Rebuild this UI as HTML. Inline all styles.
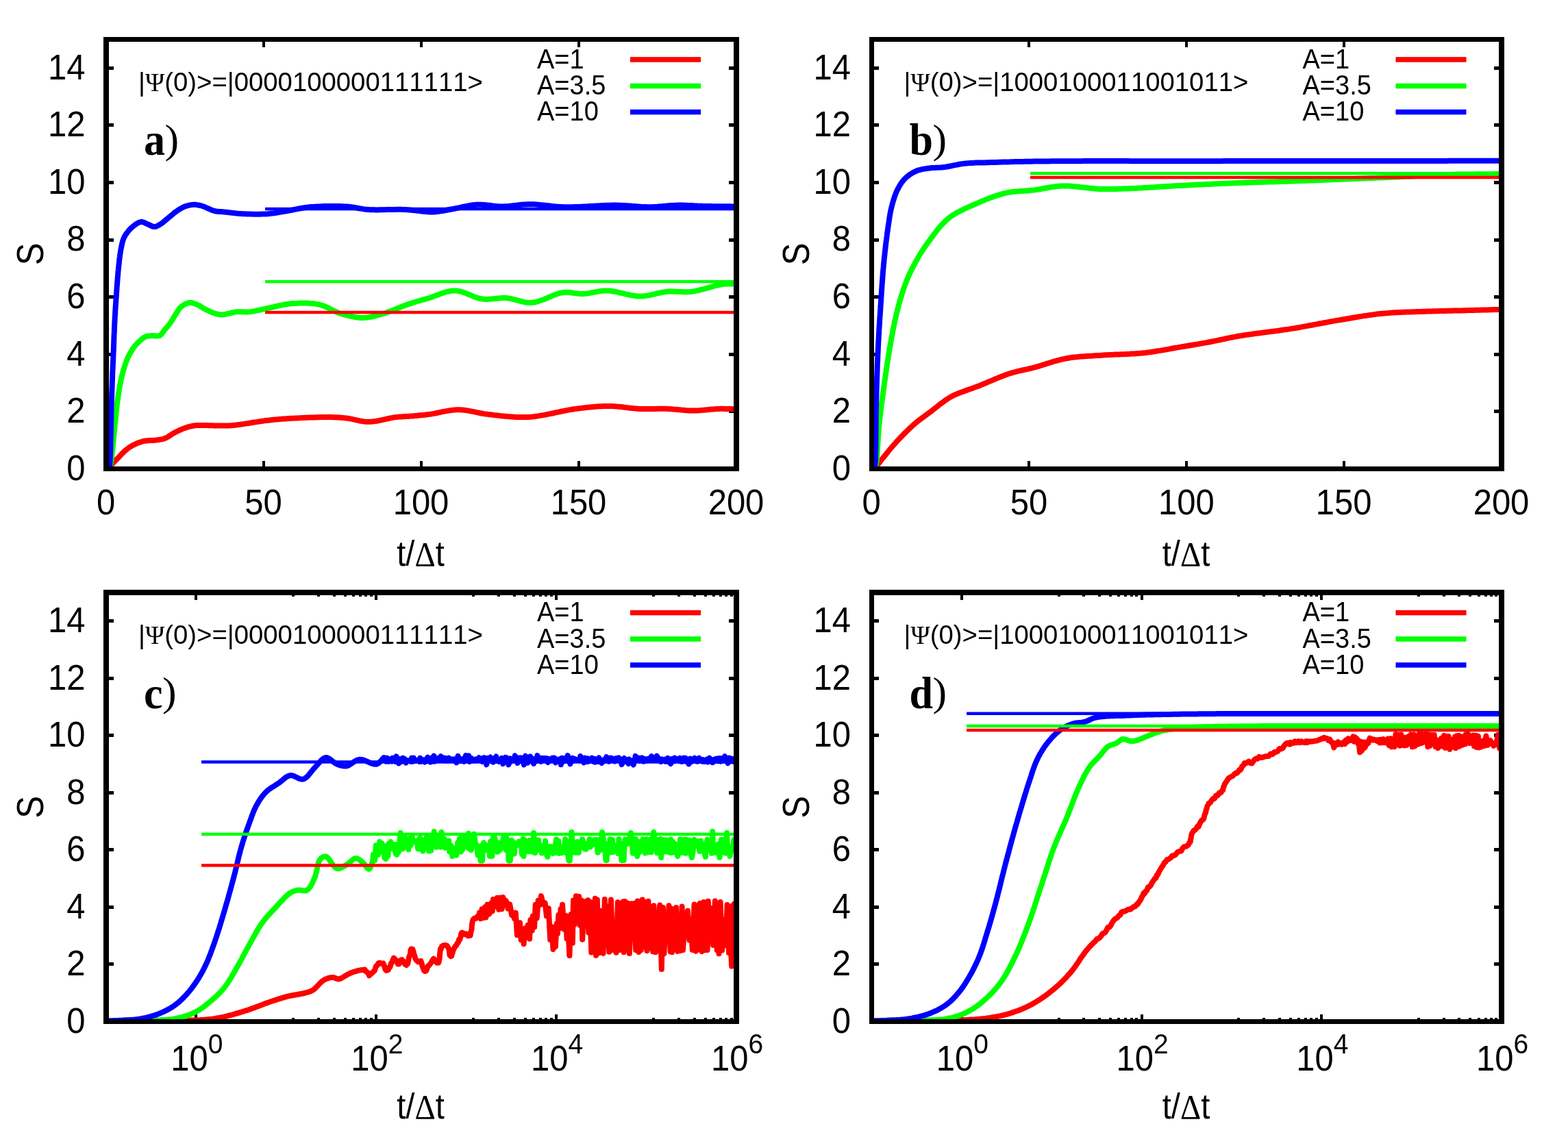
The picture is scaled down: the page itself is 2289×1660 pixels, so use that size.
<!DOCTYPE html>
<html><head><meta charset="utf-8"><title>Entropy S vs t</title>
<style>html,body{margin:0;padding:0;background:#fff;overflow:hidden;width:2289px;height:1660px;}svg{display:block;}</style>
</head><body>
<svg width="2289" height="1660" viewBox="0 0 2289 1660">
<rect x="0" y="0" width="2289" height="1660" fill="#fff"/>
<clipPath id="cp00"><rect x="155" y="57.5" width="920" height="627"/></clipPath>
<clipPath id="cp01"><rect x="155" y="865" width="920" height="626.5"/></clipPath>
<clipPath id="cp10"><rect x="1272.5" y="57.5" width="919.5" height="627"/></clipPath>
<clipPath id="cp11"><rect x="1272.5" y="865" width="919.5" height="626.5"/></clipPath>
<g fill="#000" shape-rendering="crispEdges"><rect x="159" y="682" width="7" height="5"/><rect x="1064" y="682" width="7" height="5"/><rect x="159" y="598" width="7" height="5"/><rect x="1064" y="598" width="7" height="5"/><rect x="159" y="515" width="7" height="5"/><rect x="1064" y="515" width="7" height="5"/><rect x="159" y="431" width="7" height="5"/><rect x="1064" y="431" width="7" height="5"/><rect x="159" y="348" width="7" height="5"/><rect x="1064" y="348" width="7" height="5"/><rect x="159" y="264" width="7" height="5"/><rect x="1064" y="264" width="7" height="5"/><rect x="159" y="180" width="7" height="5"/><rect x="1064" y="180" width="7" height="5"/><rect x="159" y="97" width="7" height="5"/><rect x="1064" y="97" width="7" height="5"/><rect x="383" y="673" width="4" height="8"/><rect x="383" y="61" width="4" height="8"/><rect x="613" y="673" width="4" height="8"/><rect x="613" y="61" width="4" height="8"/><rect x="843" y="673" width="4" height="8"/><rect x="843" y="61" width="4" height="8"/><rect x="159" y="1489" width="7" height="5"/><rect x="1064" y="1489" width="7" height="5"/><rect x="159" y="1405" width="7" height="5"/><rect x="1064" y="1405" width="7" height="5"/><rect x="159" y="1322" width="7" height="5"/><rect x="1064" y="1322" width="7" height="5"/><rect x="159" y="1238" width="7" height="5"/><rect x="1064" y="1238" width="7" height="5"/><rect x="159" y="1155" width="7" height="5"/><rect x="1064" y="1155" width="7" height="5"/><rect x="159" y="1071" width="7" height="5"/><rect x="1064" y="1071" width="7" height="5"/><rect x="159" y="988" width="7" height="5"/><rect x="1064" y="988" width="7" height="5"/><rect x="159" y="904" width="7" height="5"/><rect x="1064" y="904" width="7" height="5"/><rect x="284" y="1481" width="4" height="7"/><rect x="284" y="869" width="4" height="7"/><rect x="547" y="1481" width="4" height="7"/><rect x="547" y="869" width="4" height="7"/><rect x="810" y="1481" width="4" height="7"/><rect x="810" y="869" width="4" height="7"/><rect x="426" y="1486" width="4" height="2"/><rect x="426" y="869" width="4" height="2"/><rect x="463" y="1486" width="4" height="2"/><rect x="463" y="869" width="4" height="2"/><rect x="486" y="1486" width="4" height="2"/><rect x="486" y="869" width="4" height="2"/><rect x="502" y="1486" width="4" height="2"/><rect x="502" y="869" width="4" height="2"/><rect x="514" y="1486" width="4" height="2"/><rect x="514" y="869" width="4" height="2"/><rect x="524" y="1486" width="4" height="2"/><rect x="524" y="869" width="4" height="2"/><rect x="532" y="1486" width="4" height="2"/><rect x="532" y="869" width="4" height="2"/><rect x="540" y="1486" width="4" height="2"/><rect x="540" y="869" width="4" height="2"/><rect x="689" y="1486" width="4" height="2"/><rect x="689" y="869" width="4" height="2"/><rect x="726" y="1486" width="4" height="2"/><rect x="726" y="869" width="4" height="2"/><rect x="749" y="1486" width="4" height="2"/><rect x="749" y="869" width="4" height="2"/><rect x="765" y="1486" width="4" height="2"/><rect x="765" y="869" width="4" height="2"/><rect x="777" y="1486" width="4" height="2"/><rect x="777" y="869" width="4" height="2"/><rect x="787" y="1486" width="4" height="2"/><rect x="787" y="869" width="4" height="2"/><rect x="795" y="1486" width="4" height="2"/><rect x="795" y="869" width="4" height="2"/><rect x="803" y="1486" width="4" height="2"/><rect x="803" y="869" width="4" height="2"/><rect x="952" y="1486" width="4" height="2"/><rect x="952" y="869" width="4" height="2"/><rect x="989" y="1486" width="4" height="2"/><rect x="989" y="869" width="4" height="2"/><rect x="1012" y="1486" width="4" height="2"/><rect x="1012" y="869" width="4" height="2"/><rect x="1028" y="1486" width="4" height="2"/><rect x="1028" y="869" width="4" height="2"/><rect x="1040" y="1486" width="4" height="2"/><rect x="1040" y="869" width="4" height="2"/><rect x="1050" y="1486" width="4" height="2"/><rect x="1050" y="869" width="4" height="2"/><rect x="1058" y="1486" width="4" height="2"/><rect x="1058" y="869" width="4" height="2"/><rect x="1066" y="1486" width="4" height="2"/><rect x="1066" y="869" width="4" height="2"/><rect x="1276" y="682" width="7" height="5"/><rect x="2181" y="682" width="7" height="5"/><rect x="1276" y="598" width="7" height="5"/><rect x="2181" y="598" width="7" height="5"/><rect x="1276" y="515" width="7" height="5"/><rect x="2181" y="515" width="7" height="5"/><rect x="1276" y="431" width="7" height="5"/><rect x="2181" y="431" width="7" height="5"/><rect x="1276" y="348" width="7" height="5"/><rect x="2181" y="348" width="7" height="5"/><rect x="1276" y="264" width="7" height="5"/><rect x="2181" y="264" width="7" height="5"/><rect x="1276" y="180" width="7" height="5"/><rect x="2181" y="180" width="7" height="5"/><rect x="1276" y="97" width="7" height="5"/><rect x="2181" y="97" width="7" height="5"/><rect x="1500" y="673" width="4" height="8"/><rect x="1500" y="61" width="4" height="8"/><rect x="1730" y="673" width="4" height="8"/><rect x="1730" y="61" width="4" height="8"/><rect x="1960" y="673" width="4" height="8"/><rect x="1960" y="61" width="4" height="8"/><rect x="1276" y="1489" width="7" height="5"/><rect x="2181" y="1489" width="7" height="5"/><rect x="1276" y="1405" width="7" height="5"/><rect x="2181" y="1405" width="7" height="5"/><rect x="1276" y="1322" width="7" height="5"/><rect x="2181" y="1322" width="7" height="5"/><rect x="1276" y="1238" width="7" height="5"/><rect x="2181" y="1238" width="7" height="5"/><rect x="1276" y="1155" width="7" height="5"/><rect x="2181" y="1155" width="7" height="5"/><rect x="1276" y="1071" width="7" height="5"/><rect x="2181" y="1071" width="7" height="5"/><rect x="1276" y="988" width="7" height="5"/><rect x="2181" y="988" width="7" height="5"/><rect x="1276" y="904" width="7" height="5"/><rect x="2181" y="904" width="7" height="5"/><rect x="1402" y="1481" width="4" height="7"/><rect x="1402" y="869" width="4" height="7"/><rect x="1665" y="1481" width="4" height="7"/><rect x="1665" y="869" width="4" height="7"/><rect x="1927" y="1481" width="4" height="7"/><rect x="1927" y="869" width="4" height="7"/><rect x="1544" y="1486" width="4" height="2"/><rect x="1544" y="869" width="4" height="2"/><rect x="1580" y="1486" width="4" height="2"/><rect x="1580" y="869" width="4" height="2"/><rect x="1603" y="1486" width="4" height="2"/><rect x="1603" y="869" width="4" height="2"/><rect x="1619" y="1486" width="4" height="2"/><rect x="1619" y="869" width="4" height="2"/><rect x="1631" y="1486" width="4" height="2"/><rect x="1631" y="869" width="4" height="2"/><rect x="1641" y="1486" width="4" height="2"/><rect x="1641" y="869" width="4" height="2"/><rect x="1650" y="1486" width="4" height="2"/><rect x="1650" y="869" width="4" height="2"/><rect x="1657" y="1486" width="4" height="2"/><rect x="1657" y="869" width="4" height="2"/><rect x="1806" y="1486" width="4" height="2"/><rect x="1806" y="869" width="4" height="2"/><rect x="1843" y="1486" width="4" height="2"/><rect x="1843" y="869" width="4" height="2"/><rect x="1866" y="1486" width="4" height="2"/><rect x="1866" y="869" width="4" height="2"/><rect x="1882" y="1486" width="4" height="2"/><rect x="1882" y="869" width="4" height="2"/><rect x="1894" y="1486" width="4" height="2"/><rect x="1894" y="869" width="4" height="2"/><rect x="1904" y="1486" width="4" height="2"/><rect x="1904" y="869" width="4" height="2"/><rect x="1912" y="1486" width="4" height="2"/><rect x="1912" y="869" width="4" height="2"/><rect x="1920" y="1486" width="4" height="2"/><rect x="1920" y="869" width="4" height="2"/><rect x="2069" y="1486" width="4" height="2"/><rect x="2069" y="869" width="4" height="2"/><rect x="2106" y="1486" width="4" height="2"/><rect x="2106" y="869" width="4" height="2"/><rect x="2128" y="1486" width="4" height="2"/><rect x="2128" y="869" width="4" height="2"/><rect x="2144" y="1486" width="4" height="2"/><rect x="2144" y="869" width="4" height="2"/><rect x="2157" y="1486" width="4" height="2"/><rect x="2157" y="869" width="4" height="2"/><rect x="2167" y="1486" width="4" height="2"/><rect x="2167" y="869" width="4" height="2"/><rect x="2175" y="1486" width="4" height="2"/><rect x="2175" y="869" width="4" height="2"/><rect x="2182" y="1486" width="4" height="2"/><rect x="2182" y="869" width="4" height="2"/></g>
<g clip-path="url(#cp00)">
<path d="M155,684.5 L157.6,684.5 L160,684 L161.2,682.5 L162.2,680.3 L163.4,678.1 L165.1,676 L167,673.9 L169.2,671.7 L171.4,669.4 L173.3,667.4 L175.2,665.4 L177.3,663.2 L179.4,661.1 L181.4,659.1 L183.5,657.3 L185.6,655.6 L187.6,654.1 L189.7,652.6 L191.9,651.3 L194.2,650 L196.6,648.8 L199.2,647.6 L201.9,646.6 L204.6,645.6 L207.4,644.7 L210.2,644 L213.1,643.5 L216,643.3 L219,643.1 L221.9,643 L224.8,642.9 L227.6,642.6 L230.4,642.2 L233.1,641.8 L235.8,641.4 L238.4,640.8 L241,639.9 L243.3,638.9 L245.5,637.6 L247.6,636.2 L249.8,634.7 L252.1,633.2 L254.4,631.9 L256.7,630.7 L259.1,629.5 L261.6,628.3 L264.2,627.2 L266.7,626.1 L269.2,625.2 L271.6,624.3 L274.6,623.4 L277.5,622.6 L280.4,622 L283.3,621.5 L286.2,621.1 L288.9,620.9 L291.4,620.9 L294,621 L296.8,621 L300,621.1 L302.3,621.1 L304.7,621.2 L307.2,621.2 L309.9,621.3 L312.7,621.4 L315.6,621.5 L318.6,621.5 L321.7,621.6 L324.7,621.6 L327.9,621.6 L331,621.5 L334.2,621.4 L337.3,621.2 L339.9,621 L342.6,620.7 L345.3,620.4 L348.1,620.1 L350.9,619.7 L353.8,619.3 L356.6,618.9 L359.5,618.4 L362.5,618 L365.4,617.5 L368.3,617 L371.2,616.5 L374.1,616.1 L377,615.6 L379.9,615.2 L382.7,614.7 L385.4,614.4 L388.2,614 L390.8,613.7 L393.8,613.4 L396.8,613.1 L399.7,612.8 L402.5,612.5 L405.3,612.3 L408.1,612 L410.8,611.8 L413.6,611.6 L416.4,611.4 L419.2,611.2 L422,611 L424.9,610.8 L427.9,610.7 L430.9,610.5 L433.7,610.4 L436.6,610.2 L439.6,610.1 L442.7,609.9 L445.9,609.8 L449.1,609.7 L452.3,609.6 L455.5,609.5 L458.7,609.4 L461.9,609.3 L465,609.2 L468.1,609.1 L471.1,609.1 L474,609.1 L476.8,609 L479.5,609 L482,609.1 L484.4,609.1 L487.5,609.2 L490.3,609.3 L492.9,609.4 L495.4,609.5 L497.9,609.7 L500.4,609.9 L503,610.2 L505.8,610.5 L508.5,610.9 L511.2,611.4 L514,611.9 L516.9,612.6 L519.8,613.2 L522.7,613.9 L525.7,614.5 L528.7,615 L531.8,615.4 L534.8,615.7 L537.9,615.8 L540.7,615.7 L543.5,615.5 L546.4,615.1 L549.4,614.7 L552.4,614.2 L555.4,613.6 L558.4,612.9 L561.4,612.3 L564.4,611.6 L567.3,611 L570.1,610.4 L572.9,609.9 L575.5,609.4 L578,609.1 L581,608.8 L583.9,608.5 L586.6,608.4 L589.3,608.2 L591.9,608.1 L594.5,608 L597.2,607.8 L600,607.6 L602.8,607.4 L605.6,607.1 L608.5,606.9 L611.4,606.6 L614.3,606.3 L617.2,606 L620.3,605.7 L623.4,605.3 L626.7,604.9 L629.3,604.5 L631.9,604.1 L634.6,603.6 L637.4,603 L640.2,602.4 L643.1,601.8 L646,601.2 L648.9,600.6 L651.9,600.1 L654.9,599.6 L657.8,599.1 L660.8,598.7 L663.7,598.5 L666.6,598.3 L669.5,598.2 L672.3,598.3 L675.2,598.4 L677.9,598.7 L680.7,599.1 L683.5,599.6 L686.3,600.1 L689.1,600.6 L691.9,601.2 L694.7,601.8 L697.5,602.4 L700.4,603 L703.3,603.5 L706.2,604.1 L709.2,604.5 L712.3,604.9 L715,605.2 L717.8,605.5 L720.6,605.9 L723.4,606.2 L726.2,606.5 L729.1,606.9 L732,607.2 L734.9,607.5 L737.9,607.8 L740.8,608.1 L743.8,608.3 L746.8,608.5 L749.8,608.7 L752.8,608.9 L755.9,609 L758.9,609.1 L761.9,609.1 L765,609.1 L768,609 L771.1,608.9 L773.9,608.7 L776.7,608.5 L779.6,608.2 L782.5,607.8 L785.4,607.4 L788.4,606.9 L791.3,606.4 L794.3,605.9 L797.3,605.3 L800.3,604.7 L803.3,604.1 L806.3,603.5 L809.3,602.8 L812.2,602.2 L815.2,601.6 L818.1,601 L821.1,600.3 L824,599.7 L826.8,599.2 L829.7,598.6 L832.5,598.1 L835.2,597.7 L837.9,597.3 L840.6,596.9 L843.7,596.5 L846.7,596.1 L849.6,595.8 L852.6,595.4 L855.4,595.1 L858.3,594.8 L861.1,594.5 L863.9,594.2 L866.7,593.9 L869.5,593.7 L872.2,593.5 L875,593.3 L877.7,593.2 L880.5,593 L883.2,593 L886,592.9 L888.8,592.9 L891.7,592.9 L894.6,593.1 L897.4,593.2 L900.3,593.5 L903.2,593.7 L906,594 L908.9,594.3 L911.8,594.7 L914.6,595 L917.4,595.4 L920.3,595.7 L923.1,596 L925.9,596.3 L928.7,596.5 L931.4,596.7 L934.2,596.9 L937.1,597 L940.1,597.1 L943,597.1 L945.9,597.1 L948.8,597.1 L951.6,597 L954.5,596.9 L957.3,596.9 L960.2,596.8 L963,596.8 L965.8,596.8 L968.7,596.8 L971.5,596.8 L974.3,596.9 L977.2,597 L980.1,597.2 L983,597.5 L985.9,597.7 L988.8,598 L991.7,598.3 L994.6,598.6 L997.4,598.8 L1000.3,599.1 L1003.2,599.3 L1006,599.5 L1008.9,599.6 L1011.8,599.6 L1014.7,599.6 L1017.6,599.4 L1020.6,599.3 L1023.5,599 L1026.5,598.8 L1029.5,598.5 L1032.4,598.2 L1035.3,597.9 L1038.2,597.6 L1041,597.4 L1043.8,597.2 L1046.5,597 L1049.2,596.9 L1052.3,596.8 L1055.3,596.8 L1058.2,596.9 L1061,597 L1063.8,597 L1066.6,597.1 L1069.4,597.2 L1072.2,597.3 L1075,597.4" fill="none" stroke="#ff0000" stroke-width="8.0" stroke-linejoin="round"/>
<path d="M155,684.5 L157.4,684.5 L159.5,684 L160.7,681.9 L161.4,678.8 L161.8,676.8 L162.2,674.5 L162.5,671.8 L162.9,668.9 L163.2,666 L163.5,663 L163.8,660.1 L164.1,657.3 L164.4,654.4 L164.7,651.5 L165,648.7 L165.3,645.8 L165.5,643 L165.8,640.2 L166.1,637.3 L166.4,634.4 L166.7,631.6 L167,628.7 L167.2,625.8 L167.5,622.9 L167.8,620.1 L168.1,617.2 L168.4,614.3 L168.7,611.5 L168.9,608.6 L169.2,605.7 L169.5,602.8 L169.8,600 L170.1,597.1 L170.4,594.2 L170.8,591.4 L171.1,588.5 L171.5,585.7 L171.9,582.8 L172.3,580 L172.7,577.1 L173.1,574.2 L173.6,571.3 L174,568.4 L174.5,565.4 L175,562.6 L175.6,559.7 L176.1,557 L176.7,554.2 L177.3,551.5 L177.9,548.9 L178.6,546.2 L179.3,543.6 L180.1,540.9 L180.8,538.4 L181.6,535.9 L182.4,533.4 L183.3,530.8 L184.1,528.3 L185.1,525.9 L186.1,523.5 L187.3,520.9 L188.6,518.3 L189.9,515.8 L191.3,513.4 L192.7,511 L194.2,508.8 L195.9,506.4 L197.7,504.2 L199.6,502 L201.5,500 L203.5,498.1 L205.8,496.1 L208.1,494.2 L210.5,492.6 L212.9,491.4 L215.2,490.7 L217.5,490.4 L219.9,490.2 L222.3,490.1 L225,490.2 L227.8,490.5 L230.6,490.6 L233,490.1 L235,488.7 L236.7,486.7 L238.3,484.4 L240,482.1 L241.6,480.2 L243.2,478.3 L244.9,476.2 L246.6,474.2 L248.2,472.1 L249.7,470 L251.3,467.6 L252.7,465.2 L254.1,462.7 L255.5,460.3 L257,458 L258.4,455.9 L259.7,453.7 L261.1,451.6 L262.6,449.7 L264.3,448 L266.4,446.4 L268.8,444.8 L271.3,443.5 L273.9,442.5 L276.4,442 L278.8,442 L281.3,442.5 L283.8,443.2 L286.2,444.1 L288.6,445.1 L290.9,446.2 L293,447.5 L295.2,448.9 L297.5,450.4 L300,451.7 L302.3,452.8 L304.8,453.9 L307.3,455.1 L310,456.3 L312.8,457.3 L315.6,458.2 L318.4,458.9 L321.2,459.3 L323.8,459.4 L326.5,459.1 L329.2,458.7 L331.9,458.1 L334.7,457.5 L337.4,456.8 L340.1,456.1 L342.7,455.6 L345.3,455.3 L348.1,455.2 L350.7,455.2 L353.3,455.3 L355.9,455.4 L358.5,455.5 L361.2,455.5 L364,455.3 L366.5,455 L369,454.6 L371.6,454.2 L374.2,453.6 L376.9,453 L379.6,452.4 L382.4,451.8 L385.1,451.2 L388,450.6 L390.8,450 L393.5,449.4 L396.3,448.8 L399.1,448.2 L402,447.5 L404.8,446.9 L407.7,446.2 L410.7,445.6 L413.6,445 L416.6,444.5 L419.6,444 L422.6,443.6 L425.6,443.3 L428.4,443.1 L431.2,442.9 L434.1,442.8 L437,442.6 L439.9,442.6 L442.9,442.5 L445.8,442.6 L448.8,442.6 L451.7,442.8 L454.6,443 L457.4,443.3 L460.2,443.6 L463,444.1 L465.7,444.6 L468.5,445.3 L471.3,446.2 L474.1,447.3 L476.7,448.5 L479.4,449.7 L482,451 L484.6,452.3 L487.2,453.6 L489.8,454.9 L492.4,456.1 L495.1,457.1 L497.8,458 L500.7,458.8 L503.6,459.7 L506.5,460.4 L509.5,461.2 L512.4,461.8 L515.4,462.4 L518.3,463 L521.2,463.4 L524.1,463.7 L527,463.9 L529.9,463.9 L532.9,463.8 L535.8,463.5 L538.8,463.1 L541.7,462.6 L544.6,462 L547.5,461.3 L550.4,460.5 L553.3,459.7 L556.3,458.9 L559.3,458 L562,457.2 L564.7,456.3 L567.4,455.3 L570.2,454.3 L573,453.2 L575.8,452 L578.6,450.9 L581.3,449.8 L584.1,448.6 L586.9,447.5 L589.6,446.4 L592.3,445.4 L595,444.5 L597.8,443.6 L600.5,442.7 L603.2,441.8 L605.9,441 L608.6,440.2 L611.2,439.5 L613.9,438.7 L616.6,437.9 L619.3,437.1 L622.1,436.3 L625,435.5 L627.6,434.7 L630.3,433.8 L633,432.8 L635.8,431.7 L638.6,430.7 L641.4,429.6 L644.2,428.6 L647.1,427.6 L650,426.7 L652.8,425.9 L655.7,425.3 L658.5,424.8 L661.4,424.5 L664.2,424.4 L667.1,424.6 L669.9,425 L672.8,425.7 L675.7,426.6 L678.6,427.6 L681.5,428.7 L684.4,429.9 L687.2,431.1 L690.1,432.3 L693,433.4 L695.8,434.4 L698.7,435.3 L701.5,436 L704.3,436.5 L707.2,436.8 L710.2,436.9 L713.1,436.8 L716,436.6 L718.8,436.4 L721.7,436.1 L724.6,435.7 L727.4,435.4 L730.3,435.2 L733.2,435 L736.1,435 L739,435.1 L741.8,435.4 L744.7,435.9 L747.5,436.5 L750.4,437.2 L753.2,437.9 L756.1,438.7 L758.9,439.5 L761.8,440.2 L764.7,440.8 L767.6,441.4 L770.6,441.7 L773.5,441.9 L776.5,441.8 L779.3,441.5 L782.1,441 L784.9,440.2 L787.8,439.3 L790.7,438.3 L793.7,437.2 L796.6,436 L799.5,434.7 L802.5,433.5 L805.4,432.2 L808.3,431.1 L811.1,430 L813.9,429 L816.6,428.2 L819.3,427.5 L821.9,427.1 L825.1,426.8 L828.1,426.8 L831.1,427 L833.9,427.3 L836.8,427.7 L839.6,428.1 L842.5,428.5 L845.4,428.8 L848.3,429 L851.3,429 L854.1,428.8 L856.9,428.5 L859.7,428.1 L862.5,427.6 L865.3,427 L868.2,426.5 L871.1,425.9 L874,425.4 L876.9,425 L879.9,424.6 L883,424.4 L886.1,424.4 L888.7,424.5 L891.4,424.8 L894.2,425.2 L897,425.6 L899.8,426.2 L902.7,426.8 L905.6,427.5 L908.5,428.2 L911.4,428.9 L914.3,429.6 L917.2,430.2 L920.1,430.9 L923,431.4 L925.9,431.8 L928.7,432.2 L931.5,432.4 L934.2,432.5 L937.2,432.4 L940.1,432.2 L943.1,431.8 L946,431.4 L948.9,430.8 L951.8,430.2 L954.6,429.6 L957.5,428.9 L960.3,428.2 L963.1,427.6 L965.9,427 L968.7,426.5 L971.5,426.1 L974.3,425.8 L977.3,425.6 L980.2,425.6 L983.1,425.6 L985.9,425.7 L988.7,425.8 L991.6,426 L994.4,426.1 L997.3,426.2 L1000.2,426.3 L1003.1,426.2 L1006.1,426.1 L1009.1,425.8 L1011.8,425.4 L1014.6,424.9 L1017.5,424.3 L1020.5,423.7 L1023.5,422.9 L1026.5,422.1 L1029.5,421.3 L1032.5,420.4 L1035.5,419.6 L1038.5,418.8 L1041.4,418 L1044.2,417.2 L1047,416.5 L1049.6,416 L1052.1,415.5 L1054.5,415.1 L1057.8,414.7 L1060.9,414.6 L1063.8,414.5 L1066.6,414.5 L1069.4,414.5 L1072.1,414.5 L1075,414.5" fill="none" stroke="#00ff00" stroke-width="8.0" stroke-linejoin="round"/>
<path d="M155,684.5 L157.3,684.4 L159.2,684 L159.8,682.9 L160,681.4 L160.3,679.4 L160.4,676.9 L160.6,674 L160.7,670.7 L160.8,668.6 L160.9,666.3 L161,663.8 L161,661.1 L161.1,658.3 L161.2,655.3 L161.3,652.3 L161.4,649.1 L161.4,646 L161.5,642.8 L161.6,639.7 L161.7,636.6 L161.7,633.5 L161.8,630.6 L161.9,627.7 L161.9,624.9 L162,622 L162.1,619.1 L162.1,616.2 L162.2,613.4 L162.2,610.5 L162.3,607.6 L162.3,604.8 L162.4,601.9 L162.5,599 L162.5,596.1 L162.6,593.3 L162.7,590.4 L162.8,587.5 L162.9,584.7 L163,581.8 L163.1,578.9 L163.2,576.1 L163.2,573.2 L163.4,570.3 L163.5,567.5 L163.6,564.6 L163.7,561.8 L163.8,558.9 L163.9,556 L164,553.2 L164.1,550.3 L164.2,547.4 L164.3,544.6 L164.4,541.7 L164.6,538.8 L164.7,535.9 L164.8,533.1 L164.9,530.2 L165.1,527.3 L165.2,524.5 L165.3,521.6 L165.4,518.7 L165.6,515.8 L165.7,513 L165.8,510.1 L165.9,507.2 L166,504.4 L166.1,501.5 L166.2,498.7 L166.3,495.9 L166.4,493 L166.5,490.2 L166.6,487.3 L166.8,484.5 L166.9,481.6 L167,478.7 L167.1,475.8 L167.3,472.9 L167.4,470 L167.6,467.1 L167.7,464.2 L167.9,461.2 L168.1,458.3 L168.2,455.3 L168.4,452.3 L168.6,449.3 L168.8,446.3 L169,443.3 L169.2,440.4 L169.4,437.4 L169.6,434.5 L169.8,431.6 L170,428.7 L170.2,425.9 L170.4,423 L170.6,420 L170.8,417.1 L171.1,414.2 L171.3,411.3 L171.5,408.4 L171.7,405.5 L172,402.7 L172.2,400 L172.4,397.2 L172.7,394.6 L172.9,392 L173.2,389.4 L173.5,386.5 L173.8,383.6 L174.1,380.8 L174.4,378 L174.8,375.3 L175.1,372.7 L175.5,370.1 L175.9,367.6 L176.3,365.1 L176.9,362 L177.5,359 L178.1,356.1 L178.8,353.2 L179.6,350.6 L180.5,348.1 L181.8,345.4 L183.3,342.9 L184.9,340.6 L186.6,338.4 L188.1,336.5 L189.7,334.7 L191.4,333 L193.2,331.3 L195.1,329.8 L197.2,328.3 L199.3,326.7 L201.6,325.3 L203.9,324.3 L206.1,323.8 L208.5,324.1 L211,325.1 L213.4,326.3 L215.8,327.4 L218.2,328.5 L220.7,329.7 L223.1,330.7 L225.5,331.1 L227.7,330.7 L229.7,329.9 L231.8,328.7 L234,327.4 L236,326.1 L238,324.6 L240,322.9 L242.1,321.1 L244.2,319.4 L246.2,317.7 L248.2,316.1 L250.2,314.4 L252.2,312.7 L254.2,311 L256.2,309.5 L258.3,308 L260.7,306.4 L263.1,304.9 L265.5,303.6 L268,302.3 L270.5,301.3 L272.9,300.5 L275.3,299.8 L277.8,299.3 L280.2,299 L282.7,298.8 L285.1,298.8 L287.4,299.1 L289.8,299.5 L292.2,300 L294.8,300.7 L297.3,301.5 L299.9,302.6 L302.6,303.8 L305.3,305 L308,306.2 L310.6,307.2 L313.1,308 L315.6,308.5 L317.8,308.7 L320.1,308.9 L322.5,309 L325.2,309.2 L327.6,309.5 L330.3,309.8 L333.1,310.1 L336,310.4 L339.1,310.8 L342.2,311.1 L345.4,311.5 L348.6,311.8 L351.8,312 L355,312.2 L357.9,312.3 L360.8,312.5 L363.8,312.6 L366.9,312.6 L370,312.7 L373,312.7 L376.1,312.7 L379.1,312.7 L382.2,312.6 L385.1,312.5 L388,312.4 L390.8,312.2 L393.9,311.9 L396.9,311.6 L399.9,311.2 L402.8,310.7 L405.6,310.3 L408.5,309.8 L411.4,309.2 L414.4,308.7 L417.5,308.2 L420.2,307.7 L422.9,307.2 L425.7,306.7 L428.5,306.2 L431.3,305.6 L434.1,305 L437,304.5 L440,304 L442.9,303.5 L446,303 L449.1,302.6 L452.3,302.3 L455,302.1 L457.8,301.9 L460.7,301.7 L463.7,301.5 L466.7,301.4 L469.8,301.2 L472.9,301.1 L476,301 L479.2,301 L482.3,301 L485.5,300.9 L488.6,301 L491.6,301 L494.6,301 L497.5,301.1 L500.4,301.2 L503.2,301.4 L505.8,301.5 L509,301.8 L512,302.1 L514.9,302.5 L517.7,303 L520.5,303.5 L523.2,304 L526,304.5 L528.8,304.9 L531.7,305.4 L534.7,305.7 L537.9,306 L540.5,306.2 L543.3,306.3 L546.1,306.3 L549,306.4 L552,306.4 L555,306.3 L558,306.3 L561.1,306.2 L564.3,306.1 L567.4,306.1 L570.5,306 L573.6,305.9 L576.7,305.9 L579.7,305.8 L582.8,305.8 L585.7,305.8 L588.6,305.9 L591.4,306 L594.5,306.2 L597.6,306.4 L600.6,306.7 L603.7,307 L606.7,307.4 L609.6,307.8 L612.6,308.1 L615.5,308.5 L618.4,308.8 L621.2,309.1 L624,309.3 L626.7,309.5 L629.4,309.5 L632,309.5 L634.9,309.4 L637.7,309.1 L640.3,308.8 L642.9,308.4 L645.5,308 L648,307.5 L650.6,307 L653.2,306.5 L656,306 L658.8,305.5 L661.5,305 L664.2,304.5 L667,303.9 L669.9,303.3 L672.8,302.7 L675.7,302 L678.6,301.4 L681.6,300.8 L684.5,300.2 L687.5,299.8 L690.5,299.3 L693.4,299 L696.3,298.8 L699.2,298.7 L702,298.7 L704.9,298.9 L707.8,299.1 L710.6,299.4 L713.5,299.7 L716.3,300 L719.2,300.4 L722.1,300.7 L725,301 L727.9,301.2 L730.8,301.4 L733.7,301.4 L736.5,301.3 L739.3,301.2 L742.1,301 L744.9,300.7 L747.7,300.4 L750.5,300.1 L753.4,299.8 L756.2,299.4 L759.1,299.1 L762,298.8 L764.9,298.6 L767.8,298.4 L770.8,298.2 L773.8,298.2 L776.6,298.2 L779.4,298.3 L782.3,298.5 L785.1,298.7 L788,299 L790.9,299.2 L793.8,299.6 L796.7,299.9 L799.7,300.2 L802.7,300.5 L805.7,300.9 L808.7,301.2 L811.8,301.5 L815,301.7 L818.1,301.9 L821.3,302.1 L824.6,302.2 L827.3,302.2 L830.1,302.2 L833,302.2 L835.9,302.2 L838.9,302.1 L841.9,302 L845,301.9 L848.1,301.7 L851.2,301.6 L854.3,301.4 L857.4,301.3 L860.6,301.1 L863.7,300.9 L866.9,300.7 L870,300.6 L873.2,300.4 L876.2,300.2 L879.3,300.1 L882.4,300 L885.3,299.8 L888.3,299.7 L891.2,299.7 L894,299.6 L896.8,299.6 L899.5,299.6 L902.6,299.7 L905.7,299.7 L908.7,299.9 L911.6,300 L914.5,300.2 L917.4,300.4 L920.2,300.6 L923,300.9 L925.8,301.1 L928.5,301.3 L931.3,301.5 L934,301.7 L936.7,301.9 L939.4,302 L942.1,302.1 L944.9,302.2 L947.6,302.2 L950.5,302.2 L953.4,302.1 L956.3,301.9 L959.2,301.8 L962.1,301.5 L965,301.3 L967.8,301.1 L970.7,300.8 L973.5,300.6 L976.3,300.3 L979.2,300.1 L982,299.9 L984.8,299.8 L987.6,299.7 L990.4,299.6 L993.3,299.6 L996.1,299.6 L998.9,299.7 L1001.8,299.8 L1004.6,299.9 L1007.3,300 L1010.1,300.1 L1012.9,300.3 L1015.7,300.4 L1018.5,300.6 L1021.4,300.7 L1024.2,300.8 L1027.1,300.9 L1030,301 L1032.7,301.1 L1035.5,301.1 L1038.3,301.1 L1041,301.2 L1043.8,301.2 L1046.7,301.2 L1049.5,301.3 L1052.3,301.3 L1055.2,301.3 L1058,301.3 L1060.8,301.3 L1063.7,301.3 L1066.5,301.3 L1069.4,301.4 L1072.2,301.4 L1075,301.4" fill="none" stroke="#0000ff" stroke-width="8.0" stroke-linejoin="round"/>
<rect x="387" y="302.8" width="688" height="4.5" fill="#0000ff"/>
<rect x="387" y="408.9" width="688" height="4.5" fill="#00ff00"/>
<rect x="387" y="453.8" width="688" height="4.5" fill="#ff0000"/>
</g>
<g clip-path="url(#cp10)">
<path d="M1272.5,684.5 L1274.8,684.5 L1277,684 L1278.5,682.6 L1280,680.4 L1281.8,677.8 L1283,676.3 L1284.3,674.6 L1285.8,672.7 L1287.5,670.6 L1289.2,668.4 L1291.1,666.1 L1293,663.7 L1295,661.2 L1297,658.8 L1299,656.3 L1301.1,653.8 L1303.1,651.5 L1305.1,649.2 L1307,647 L1308.9,644.9 L1310.8,642.8 L1312.8,640.7 L1314.8,638.6 L1316.8,636.5 L1318.8,634.4 L1320.8,632.4 L1322.8,630.4 L1324.9,628.4 L1326.9,626.4 L1328.9,624.5 L1331,622.6 L1333,620.8 L1335,619 L1337.3,617 L1339.6,615.1 L1342,613.3 L1344.4,611.5 L1346.7,609.7 L1349.1,608 L1351.4,606.4 L1353.6,604.7 L1355.8,603.1 L1358,601.5 L1360,600 L1362.3,598.2 L1364.6,596.4 L1366.7,594.7 L1368.7,593 L1370.8,591.4 L1372.9,589.8 L1375,588.2 L1377.1,586.7 L1379,585.3 L1381,583.8 L1383,582.5 L1385.2,581.1 L1387.5,579.7 L1390.1,578.3 L1392.3,577.2 L1394.6,576.2 L1397.1,575.1 L1399.7,574.1 L1402.4,573 L1405.2,572 L1408.1,570.9 L1411,569.9 L1414,568.8 L1417,567.8 L1420,566.7 L1423,565.6 L1425.9,564.5 L1428.8,563.4 L1431.4,562.4 L1433.9,561.3 L1436.6,560.2 L1439.2,559.1 L1441.8,558 L1444.5,556.9 L1447.2,555.8 L1449.9,554.6 L1452.5,553.5 L1455.2,552.4 L1457.9,551.3 L1460.6,550.2 L1463.2,549.2 L1465.8,548.2 L1468.4,547.2 L1471,546.3 L1473.5,545.5 L1476.3,544.6 L1479.1,543.8 L1481.9,543.1 L1484.6,542.4 L1487.3,541.7 L1489.9,541.1 L1492.6,540.5 L1495.3,539.9 L1498,539.3 L1500.8,538.7 L1503.6,538 L1506.4,537.3 L1509.3,536.6 L1511.9,535.9 L1514.6,535.1 L1517.3,534.3 L1520,533.5 L1522.7,532.6 L1525.5,531.8 L1528.3,530.9 L1531.1,530 L1534,529.1 L1536.8,528.2 L1539.7,527.4 L1542.5,526.6 L1545.4,525.8 L1548.3,525.1 L1551.2,524.4 L1554,523.8 L1556.9,523.2 L1559.8,522.7 L1562.7,522.2 L1565.6,521.8 L1568.5,521.5 L1571.5,521.2 L1574.4,520.9 L1577.3,520.6 L1580.3,520.4 L1583.2,520.2 L1586.2,520 L1589.2,519.8 L1592.2,519.7 L1595.3,519.5 L1598.3,519.3 L1601.4,519.1 L1604.5,518.9 L1607.6,518.7 L1610.4,518.5 L1613.3,518.3 L1616.2,518.2 L1619.1,518 L1622.1,517.9 L1625.1,517.8 L1628.1,517.6 L1631.1,517.5 L1634.1,517.4 L1637.1,517.3 L1640.2,517.2 L1643.2,517.1 L1646.2,516.9 L1649.3,516.8 L1652.3,516.6 L1655.3,516.4 L1658.3,516.2 L1661.3,516 L1664.2,515.8 L1667.2,515.5 L1670.1,515.2 L1673,514.9 L1676,514.5 L1678.9,514.1 L1681.9,513.7 L1684.8,513.3 L1687.8,512.8 L1690.7,512.3 L1693.6,511.9 L1696.6,511.4 L1699.5,510.9 L1702.4,510.4 L1705.2,509.9 L1708.1,509.3 L1710.9,508.8 L1713.7,508.3 L1716.4,507.8 L1719.1,507.4 L1721.8,506.9 L1724.4,506.4 L1727,506 L1730.1,505.5 L1733.2,505 L1736.2,504.5 L1739.1,504 L1741.9,503.5 L1744.7,503 L1747.5,502.6 L1750.3,502.1 L1753.1,501.6 L1755.9,501.1 L1758.8,500.6 L1761.7,500.1 L1764.7,499.5 L1767.4,499 L1770,498.5 L1772.7,497.9 L1775.3,497.4 L1778,496.8 L1780.7,496.2 L1783.4,495.7 L1786.1,495.1 L1788.8,494.5 L1791.6,493.9 L1794.4,493.3 L1797.3,492.7 L1800.2,492.2 L1803.2,491.6 L1806.3,491 L1809.4,490.5 L1811.9,490.1 L1814.5,489.7 L1817.1,489.3 L1819.8,488.9 L1822.5,488.5 L1825.3,488.1 L1828.1,487.7 L1830.9,487.3 L1833.8,486.9 L1836.7,486.5 L1839.6,486.2 L1842.5,485.8 L1845.5,485.4 L1848.4,485 L1851.4,484.6 L1854.4,484.3 L1857.4,483.9 L1860.4,483.5 L1863.4,483.1 L1866.3,482.7 L1869.3,482.3 L1872.3,481.8 L1875.2,481.4 L1878.1,481 L1881,480.6 L1883.9,480.1 L1886.8,479.6 L1889.7,479.2 L1892.6,478.7 L1895.5,478.2 L1898.4,477.7 L1901.3,477.1 L1904.2,476.6 L1907.1,476.1 L1910,475.5 L1912.9,475 L1915.9,474.5 L1918.8,473.9 L1921.7,473.4 L1924.6,472.8 L1927.5,472.3 L1930.4,471.7 L1933.2,471.2 L1936.1,470.7 L1938.9,470.1 L1941.8,469.6 L1944.6,469.1 L1947.4,468.6 L1950.2,468.1 L1952.9,467.6 L1955.7,467.2 L1958.4,466.7 L1961.4,466.2 L1964.3,465.7 L1967.3,465.2 L1970.2,464.7 L1973,464.2 L1975.9,463.7 L1978.7,463.3 L1981.6,462.8 L1984.4,462.3 L1987.2,461.9 L1990,461.4 L1992.8,461 L1995.6,460.6 L1998.4,460.1 L2001.1,459.7 L2003.9,459.4 L2006.7,459 L2009.5,458.6 L2012.3,458.3 L2015.2,458 L2018,457.7 L2021,457.4 L2023.9,457.2 L2026.9,456.9 L2029.9,456.7 L2032.9,456.5 L2035.9,456.3 L2038.8,456.2 L2041.8,456 L2044.8,455.9 L2047.8,455.8 L2050.8,455.7 L2053.7,455.6 L2056.7,455.5 L2059.7,455.4 L2062.7,455.3 L2065.7,455.2 L2068.7,455.1 L2071.6,455 L2074.6,454.9 L2077.6,454.8 L2080.6,454.7 L2083.6,454.6 L2086.6,454.5 L2089.6,454.4 L2092.6,454.3 L2095.6,454.2 L2098.6,454.2 L2101.6,454.1 L2104.6,454 L2107.6,454 L2110.5,453.9 L2113.5,453.8 L2116.5,453.8 L2119.5,453.7 L2122.5,453.6 L2125.4,453.6 L2128.4,453.5 L2131.3,453.4 L2134.3,453.4 L2137.2,453.3 L2140.1,453.2 L2143.1,453.1 L2146,453.1 L2148.9,453 L2151.8,452.9 L2154.7,452.8 L2157.6,452.8 L2160.4,452.7 L2163.3,452.6 L2166.2,452.5 L2169,452.4 L2171.9,452.4 L2174.8,452.3 L2177.6,452.2 L2180.5,452.1 L2183.4,452 L2186.2,452 L2189.1,451.9 L2192,451.8" fill="none" stroke="#ff0000" stroke-width="8.0" stroke-linejoin="round"/>
<path d="M1272.5,684.5 L1274.9,684.5 L1277,684 L1278,682.6 L1278.5,680.6 L1279,677.8 L1279.3,676.2 L1279.5,674.3 L1279.8,672.1 L1280,669.7 L1280.2,667.1 L1280.4,664.3 L1280.6,661.3 L1280.8,658.2 L1281,655 L1281.2,651.6 L1281.4,648.3 L1281.6,644.8 L1281.8,641.4 L1282,638 L1282.2,634.6 L1282.4,631.2 L1282.7,628 L1282.9,624.8 L1283.2,621.8 L1283.5,618.9 L1283.8,615.9 L1284.1,613 L1284.5,610 L1284.8,607.1 L1285.2,604.1 L1285.5,601.2 L1285.9,598.2 L1286.3,595.3 L1286.6,592.4 L1287,589.4 L1287.4,586.5 L1287.8,583.5 L1288.2,580.6 L1288.6,577.7 L1289,574.7 L1289.4,571.8 L1289.8,568.8 L1290.2,565.9 L1290.6,563 L1291,560 L1291.4,557.1 L1291.8,554.1 L1292.2,551.2 L1292.7,548.2 L1293.1,545.3 L1293.5,542.3 L1293.9,539.4 L1294.4,536.4 L1294.8,533.5 L1295.2,530.5 L1295.7,527.6 L1296.2,524.6 L1296.6,521.7 L1297.1,518.7 L1297.6,515.8 L1298.1,512.8 L1298.6,509.9 L1299.1,507.1 L1299.6,504.3 L1300.1,501.4 L1300.6,498.6 L1301.1,495.7 L1301.6,492.9 L1302.1,490 L1302.7,487.2 L1303.2,484.3 L1303.7,481.5 L1304.3,478.6 L1304.9,475.8 L1305.4,473 L1306,470.2 L1306.6,467.4 L1307.2,464.7 L1307.9,461.9 L1308.5,459.2 L1309.1,456.5 L1309.8,453.9 L1310.6,450.9 L1311.3,448 L1312.1,445 L1312.9,442.1 L1313.7,439.2 L1314.6,436.3 L1315.4,433.5 L1316.3,430.7 L1317.1,427.9 L1318,425.1 L1318.9,422.3 L1319.9,419.6 L1320.8,416.9 L1321.8,414.3 L1322.8,411.7 L1323.8,409.1 L1325,406.3 L1326.1,403.5 L1327.4,400.8 L1328.6,398.1 L1329.9,395.5 L1331.2,392.8 L1332.5,390.3 L1333.8,387.7 L1335.2,385.2 L1336.5,382.7 L1337.9,380.3 L1339.2,377.9 L1340.6,375.5 L1342.1,373 L1343.5,370.6 L1345,368.2 L1346.5,365.9 L1348,363.6 L1349.6,361.3 L1351.1,359.1 L1352.7,356.9 L1354.2,354.7 L1355.8,352.5 L1357.4,350.3 L1359.1,348 L1360.8,345.6 L1362.6,343.2 L1364.3,340.9 L1366.1,338.6 L1367.9,336.3 L1369.7,334.1 L1371.4,332 L1373.2,329.9 L1375,328 L1377.1,325.8 L1379.1,323.8 L1381,321.9 L1383.1,320.1 L1385.2,318.3 L1387.5,316.5 L1390.1,314.7 L1392.1,313.4 L1394.3,312.1 L1396.6,310.8 L1398.9,309.5 L1401.4,308.2 L1403.9,306.9 L1406.5,305.6 L1409.2,304.4 L1411.9,303.1 L1414.6,301.9 L1417.4,300.7 L1420.1,299.5 L1422.9,298.3 L1425.5,297.2 L1428.1,296.1 L1430.8,294.9 L1433.5,293.7 L1436.3,292.6 L1439.1,291.4 L1441.9,290.3 L1444.8,289.2 L1447.6,288.1 L1450.5,287.1 L1453.4,286.1 L1456.3,285.1 L1459.1,284.2 L1462,283.4 L1464.8,282.6 L1467.6,281.9 L1470.6,281.3 L1473.6,280.7 L1476.6,280.3 L1479.5,279.9 L1482.5,279.6 L1485.5,279.4 L1488.5,279.1 L1491.4,278.9 L1494.4,278.8 L1497.4,278.6 L1500.4,278.4 L1503.4,278.1 L1506.3,277.8 L1509.3,277.5 L1512.1,277.1 L1514.8,276.7 L1517.5,276.3 L1520.3,275.8 L1523,275.3 L1525.7,274.8 L1528.4,274.3 L1531.1,273.8 L1533.9,273.3 L1536.6,272.9 L1539.4,272.5 L1542.2,272.1 L1545.1,271.9 L1548,271.6 L1551,271.5 L1553.8,271.5 L1556.6,271.5 L1559.5,271.6 L1562.5,271.7 L1565.4,272 L1568.4,272.2 L1571.5,272.5 L1574.5,272.8 L1577.6,273.2 L1580.7,273.5 L1583.8,273.9 L1586.9,274.2 L1589.9,274.6 L1593,274.9 L1596,275.2 L1598.9,275.5 L1601.9,275.7 L1604.8,275.9 L1607.6,276 L1610.7,276.1 L1613.7,276.1 L1616.7,276.1 L1619.6,276.1 L1622.5,276.1 L1625.3,276.1 L1628.2,276 L1631,275.9 L1633.9,275.8 L1636.8,275.7 L1639.7,275.6 L1642.8,275.5 L1645.8,275.4 L1649,275.2 L1652.3,275.1 L1654.9,275 L1657.5,274.9 L1660.2,274.7 L1662.9,274.6 L1665.6,274.5 L1668.4,274.3 L1671.2,274.1 L1674.1,274 L1677,273.8 L1679.9,273.6 L1682.8,273.4 L1685.7,273.2 L1688.7,273 L1691.7,272.8 L1694.7,272.6 L1697.7,272.4 L1700.7,272.2 L1703.8,272 L1706.8,271.9 L1709.8,271.7 L1712.9,271.5 L1715.9,271.3 L1718.9,271.1 L1722,271 L1725,270.8 L1727.8,270.7 L1730.6,270.5 L1733.5,270.4 L1736.3,270.2 L1739.1,270.1 L1742,269.9 L1744.9,269.8 L1747.8,269.7 L1750.6,269.5 L1753.5,269.4 L1756.4,269.3 L1759.4,269.1 L1762.3,269 L1765.2,268.9 L1768.1,268.7 L1771,268.6 L1774,268.5 L1776.9,268.3 L1779.9,268.2 L1782.8,268.1 L1785.8,268 L1788.7,267.8 L1791.7,267.7 L1794.6,267.6 L1797.6,267.5 L1800.5,267.3 L1803.5,267.2 L1806.4,267.1 L1809.4,267 L1812.3,266.9 L1815.3,266.8 L1818.2,266.7 L1821.2,266.6 L1824.2,266.5 L1827.1,266.4 L1830.1,266.3 L1833.1,266.2 L1836,266.1 L1839,266 L1842,265.9 L1845,265.8 L1848,265.7 L1850.9,265.6 L1853.9,265.5 L1856.9,265.4 L1859.9,265.4 L1862.9,265.3 L1865.9,265.2 L1868.9,265.1 L1871.9,265 L1874.9,264.9 L1877.9,264.8 L1880.9,264.7 L1883.9,264.6 L1886.9,264.5 L1889.8,264.4 L1892.8,264.3 L1895.8,264.2 L1898.8,264.1 L1901.8,264 L1904.8,263.9 L1907.8,263.8 L1910.9,263.6 L1913.9,263.5 L1917,263.4 L1920,263.3 L1923.1,263.2 L1926.2,263 L1929.3,262.9 L1932.3,262.8 L1935.4,262.7 L1938.5,262.5 L1941.6,262.4 L1944.6,262.3 L1947.7,262.2 L1950.7,262 L1953.7,261.9 L1956.7,261.8 L1959.7,261.7 L1962.7,261.5 L1965.7,261.4 L1968.6,261.3 L1971.5,261.2 L1974.3,261.1 L1977.2,260.9 L1980,260.8 L1982.8,260.7 L1985.5,260.6 L1988.2,260.5 L1991.5,260.4 L1994.6,260.2 L1997.8,260.1 L2000.9,260 L2003.9,259.9 L2007,259.8 L2010,259.6 L2012.9,259.5 L2015.8,259.4 L2018.8,259.3 L2021.7,259.2 L2024.5,259.1 L2027.4,259 L2030.3,258.8 L2033.2,258.7 L2036.1,258.6 L2039,258.5 L2041.9,258.4 L2044.8,258.2 L2047.8,258.1 L2050.8,258 L2053.7,257.8 L2056.6,257.7 L2059.6,257.5 L2062.5,257.3 L2065.4,257.2 L2068.2,257 L2071.1,256.9 L2074,256.7 L2076.9,256.5 L2079.9,256.4 L2082.8,256.2 L2085.8,256 L2088.8,255.9 L2091.8,255.7 L2094.8,255.6 L2097.9,255.5 L2101,255.3 L2104.2,255.2 L2107.4,255.1 L2110.1,255 L2112.8,254.9 L2115.5,254.9 L2118.3,254.8 L2121.1,254.8 L2123.9,254.7 L2126.8,254.6 L2129.7,254.6 L2132.6,254.6 L2135.5,254.5 L2138.4,254.5 L2141.4,254.5 L2144.3,254.4 L2147.3,254.4 L2150.3,254.4 L2153.3,254.3 L2156.2,254.3 L2159.2,254.3 L2162.3,254.3 L2165.3,254.3 L2168.3,254.2 L2171.3,254.2 L2174.2,254.2 L2177.2,254.2 L2180.2,254.1 L2183.2,254.1 L2186.1,254.1 L2189.1,254 L2192,254" fill="none" stroke="#00ff00" stroke-width="8.0" stroke-linejoin="round"/>
<path d="M1272.5,684.5 L1274.7,684.5 L1276.5,684 L1277.2,682.7 L1277.4,680.6 L1277.6,677.8 L1277.7,676.5 L1277.8,674.9 L1277.9,673.1 L1278,671.2 L1278.1,669 L1278.1,666.7 L1278.2,664.2 L1278.2,661.6 L1278.3,658.8 L1278.3,656 L1278.4,653 L1278.4,649.9 L1278.4,646.7 L1278.5,643.5 L1278.5,640.2 L1278.5,636.8 L1278.5,633.4 L1278.6,630 L1278.6,626.5 L1278.6,623.1 L1278.6,619.6 L1278.7,616.2 L1278.7,612.8 L1278.7,609.5 L1278.8,606.2 L1278.8,602.9 L1278.9,599.8 L1278.9,596.8 L1279,593.8 L1279.1,590.8 L1279.2,587.8 L1279.2,584.8 L1279.3,581.7 L1279.4,578.7 L1279.5,575.7 L1279.6,572.6 L1279.6,569.6 L1279.7,566.6 L1279.8,563.5 L1279.9,560.5 L1280,557.4 L1280.1,554.4 L1280.2,551.4 L1280.3,548.3 L1280.4,545.3 L1280.5,542.3 L1280.6,539.3 L1280.7,536.3 L1280.8,533.3 L1280.9,530.3 L1281.1,527.4 L1281.2,524.4 L1281.3,521.5 L1281.4,518.6 L1281.5,515.7 L1281.7,512.8 L1281.8,509.9 L1281.9,506.9 L1282.1,503.8 L1282.2,500.8 L1282.4,497.8 L1282.6,494.8 L1282.7,491.8 L1282.9,488.8 L1283.1,485.8 L1283.2,482.8 L1283.4,479.9 L1283.6,476.9 L1283.8,474 L1284,471.1 L1284.1,468.2 L1284.3,465.3 L1284.5,462.4 L1284.7,459.6 L1284.9,456.7 L1285.1,453.9 L1285.3,451 L1285.4,448.2 L1285.6,445.4 L1285.8,442.7 L1286,439.9 L1286.2,436.8 L1286.4,433.7 L1286.6,430.7 L1286.8,427.6 L1287,424.6 L1287.2,421.6 L1287.4,418.6 L1287.6,415.6 L1287.8,412.7 L1288.1,409.7 L1288.3,406.8 L1288.5,403.9 L1288.7,401 L1288.9,398.1 L1289.2,395.3 L1289.4,392.4 L1289.7,389.6 L1289.9,386.7 L1290.2,383.9 L1290.5,380.8 L1290.8,377.7 L1291.1,374.6 L1291.5,371.5 L1291.8,368.5 L1292.1,365.4 L1292.5,362.4 L1292.8,359.4 L1293.2,356.4 L1293.5,353.4 L1293.9,350.5 L1294.3,347.6 L1294.7,344.7 L1295,341.9 L1295.4,339.1 L1295.8,336.4 L1296.2,333.4 L1296.6,330.4 L1297,327.5 L1297.5,324.6 L1297.9,321.7 L1298.3,318.9 L1298.7,316.1 L1299.2,313.4 L1299.7,310.7 L1300.2,308 L1300.8,305.4 L1301.4,302.8 L1302.2,299.8 L1303,296.8 L1303.8,293.9 L1304.7,291 L1305.6,288.1 L1306.5,285.4 L1307.6,282.7 L1308.6,280.1 L1309.8,277.6 L1311.2,274.9 L1312.6,272.3 L1314.1,269.8 L1315.6,267.4 L1317.3,265.1 L1319.1,262.9 L1321,260.8 L1323.1,258.8 L1325.3,257 L1327.7,255.2 L1330.1,253.6 L1332.6,252.1 L1335.2,250.8 L1337.8,249.6 L1340.4,248.6 L1343.2,247.8 L1346,247.2 L1348.8,246.6 L1351.7,246.2 L1354.5,245.8 L1357.4,245.4 L1360.3,245.1 L1363.2,244.9 L1366.1,244.8 L1369,244.7 L1372,244.6 L1375,244.4 L1378.2,244.1 L1380.7,243.8 L1383.3,243.3 L1385.9,242.8 L1388.5,242.3 L1391.2,241.7 L1394,241.1 L1396.7,240.6 L1399.5,240 L1402.3,239.5 L1405.2,239.1 L1408,238.7 L1410.8,238.4 L1413.6,238.2 L1416.5,238 L1419.3,237.9 L1422.2,237.7 L1425.1,237.6 L1428,237.6 L1431,237.5 L1434.1,237.4 L1437.2,237.4 L1440.4,237.3 L1443.7,237.2 L1446.3,237.1 L1449,237 L1451.8,236.9 L1454.6,236.9 L1457.5,236.8 L1460.5,236.7 L1463.4,236.6 L1466.4,236.5 L1469.5,236.4 L1472.5,236.4 L1475.6,236.3 L1478.7,236.2 L1481.8,236.1 L1484.9,236.1 L1488,236 L1491.1,235.9 L1494.2,235.9 L1497.3,235.8 L1500.3,235.8 L1503.3,235.7 L1506.2,235.7 L1509.1,235.6 L1511.9,235.6 L1514.7,235.5 L1517.5,235.5 L1520.2,235.5 L1522.9,235.4 L1525.7,235.4 L1528.4,235.4 L1531.2,235.4 L1534,235.3 L1536.8,235.3 L1539.8,235.3 L1542.7,235.3 L1545.8,235.3 L1549,235.3 L1552.3,235.2 L1555.7,235.2 L1559.2,235.2 L1562.9,235.2 L1565.1,235.2 L1567.4,235.2 L1569.7,235.2 L1572.1,235.2 L1574.5,235.2 L1577,235.2 L1579.5,235.2 L1582.1,235.1 L1584.7,235.1 L1587.4,235.1 L1590,235.1 L1592.8,235.1 L1595.5,235.1 L1598.3,235.1 L1601.2,235.1 L1604,235.1 L1606.9,235.1 L1609.8,235.1 L1612.8,235.1 L1615.8,235.1 L1618.8,235.1 L1621.8,235.1 L1624.9,235.1 L1628,235.1 L1631.1,235.1 L1634.2,235.1 L1637.3,235.1 L1640.4,235.1 L1643.6,235.1 L1646.8,235.1 L1650,235.2 L1653.2,235.2 L1656.4,235.2 L1659.6,235.2 L1662.8,235.2 L1666,235.2 L1669.2,235.2 L1672.5,235.2 L1675.7,235.2 L1678.9,235.2 L1682.1,235.2 L1685.3,235.2 L1688.5,235.2 L1691.7,235.2 L1694.9,235.2 L1698.1,235.2 L1701.3,235.2 L1704.4,235.2 L1707.6,235.2 L1710.7,235.2 L1713.8,235.2 L1716.9,235.2 L1720,235.2 L1723,235.2 L1726.1,235.2 L1729.1,235.2 L1732,235.2 L1735,235.2 L1738,235.2 L1740.9,235.2 L1743.9,235.2 L1746.8,235.2 L1749.7,235.2 L1752.6,235.2 L1755.5,235.2 L1758.3,235.2 L1761.2,235.2 L1764.1,235.2 L1766.9,235.2 L1769.7,235.2 L1772.6,235.2 L1775.4,235.2 L1778.2,235.2 L1781,235.2 L1783.8,235.2 L1786.7,235.1 L1789.5,235.1 L1792.3,235.1 L1795.1,235.1 L1797.9,235.1 L1800.7,235.1 L1803.5,235.1 L1806.3,235.1 L1809.1,235.1 L1812,235.1 L1814.8,235.1 L1817.6,235.1 L1820.5,235.1 L1823.3,235.1 L1826.2,235.1 L1829.1,235.1 L1832,235.1 L1834.9,235.1 L1837.8,235.1 L1840.7,235.1 L1843.6,235.1 L1846.6,235.1 L1849.5,235.1 L1852.5,235.1 L1855.5,235.1 L1858.6,235 L1861.6,235 L1864.7,235 L1867.8,235 L1870.9,235 L1874,235 L1877.2,235 L1880.3,235 L1883.5,235 L1886.8,235 L1890,235 L1893.3,235 L1896.7,235 L1900,235 L1902.6,235 L1905.1,235 L1907.7,235 L1910.4,235 L1913,235 L1915.6,235 L1918.3,235 L1921,235 L1923.7,235 L1926.4,235 L1929.1,235 L1931.9,235 L1934.6,235 L1937.4,235 L1940.1,235 L1942.9,235 L1945.7,235 L1948.6,235 L1951.4,235 L1954.2,235 L1957.1,235 L1960,235 L1962.8,234.9 L1965.7,234.9 L1968.6,234.9 L1971.5,234.9 L1974.5,234.9 L1977.4,234.9 L1980.3,234.9 L1983.3,234.9 L1986.2,234.9 L1989.2,234.9 L1992.2,234.9 L1995.2,234.9 L1998.2,234.9 L2001.2,234.9 L2004.2,234.9 L2007.2,234.9 L2010.2,234.9 L2013.3,234.9 L2016.3,234.9 L2019.4,234.9 L2022.4,234.9 L2025.5,234.9 L2028.5,234.9 L2031.6,234.9 L2034.7,234.9 L2037.7,234.9 L2040.8,234.9 L2043.9,234.9 L2047,234.9 L2050.1,234.9 L2053.2,234.9 L2056.3,234.9 L2059.4,234.9 L2062.5,234.9 L2065.6,234.9 L2068.7,234.9 L2071.8,234.9 L2075,234.9 L2078.1,234.9 L2081.2,234.9 L2084.3,234.9 L2087.4,234.9 L2090.6,234.9 L2093.7,234.9 L2096.8,234.9 L2099.9,234.9 L2103,234.9 L2106.2,234.9 L2109.3,234.9 L2112.4,234.9 L2115.5,234.8 L2118.6,234.8 L2121.7,234.8 L2124.8,234.8 L2127.9,234.8 L2131,234.8 L2134.1,234.8 L2137.2,234.8 L2140.3,234.8 L2143.4,234.8 L2146.5,234.8 L2149.6,234.8 L2152.6,234.8 L2155.7,234.8 L2158.8,234.8 L2161.8,234.8 L2164.9,234.8 L2167.9,234.8 L2170.9,234.8 L2174,234.8 L2177,234.8 L2180,234.8 L2183,234.8 L2186,234.8 L2189,234.8 L2192,234.8" fill="none" stroke="#0000ff" stroke-width="8.0" stroke-linejoin="round"/>
<rect x="1504" y="250.9" width="688" height="4.5" fill="#00ff00"/>
<rect x="1504" y="256.8" width="688" height="4.5" fill="#ff0000"/>
</g>
<g clip-path="url(#cp01)">
<path d="M155,1491.5 L158,1491.5 L161,1491.4 L164,1491.4 L167.1,1491.4 L170.2,1491.3 L173.3,1491.3 L176.4,1491.3 L179.6,1491.2 L182.7,1491.2 L185.9,1491.2 L189,1491.2 L192.2,1491.1 L195.4,1491.1 L198.5,1491.1 L201.7,1491.1 L204.8,1491 L208,1491 L211.1,1491 L214.2,1491 L217.3,1490.9 L220.4,1490.9 L223.5,1490.9 L226.5,1490.8 L229.5,1490.8 L232.5,1490.8 L235.4,1490.7 L238.3,1490.7 L241.2,1490.6 L244,1490.6 L246.8,1490.5 L249.6,1490.4 L252.2,1490.4 L254.9,1490.3 L257.5,1490.2 L260,1490.2 L262.5,1490.1 L264.9,1490 L268.3,1489.9 L271.6,1489.8 L274.8,1489.7 L278,1489.6 L281,1489.5 L284,1489.4 L286.9,1489.3 L289.7,1489.2 L292.5,1489.1 L295.2,1488.9 L298,1488.7 L300.7,1488.6 L303.4,1488.3 L306.1,1488.1 L308.8,1487.7 L311.5,1487.4 L314.2,1487 L317.1,1486.5 L319.9,1486 L322.7,1485.5 L325.5,1484.9 L328.2,1484.3 L330.9,1483.6 L333.7,1482.9 L336.4,1482.2 L339.1,1481.5 L341.7,1480.7 L344.4,1479.9 L347.1,1479.1 L349.8,1478.3 L352.5,1477.5 L355.2,1476.7 L358,1475.8 L360.8,1474.9 L363.6,1473.9 L366.5,1472.9 L369.3,1471.9 L372.2,1470.9 L375,1469.8 L377.8,1468.7 L380.6,1467.7 L383.4,1466.6 L386.1,1465.6 L388.7,1464.6 L391.3,1463.7 L393.8,1462.8 L396.2,1462 L399.1,1461 L401.9,1460.1 L404.5,1459.2 L407.1,1458.4 L409.7,1457.6 L412.2,1456.9 L414.7,1456.1 L417.3,1455.4 L420,1454.7 L422.6,1454.1 L425.4,1453.5 L428.2,1453 L431.1,1452.5 L433.9,1452 L436.7,1451.5 L439.4,1451 L442,1450.5 L444.3,1450 L446.5,1449.4 L449.5,1448.6 L452,1447.8 L454.4,1446.8 L457,1445.4 L458.9,1444 L460.8,1442.2 L462.8,1440.2 L464.8,1438.1 L466.8,1435.9 L468.8,1433.9 L470.9,1432.2 L472.9,1430.8 L475.6,1429.4 L478.3,1428.4 L481,1427.5 L483.7,1427.1 L486.1,1426.9 L488.8,1427.6 L491.3,1428.9 L494.1,1429.5 L496.3,1429 L498.8,1427.9 L501.4,1426.4 L504.2,1424.7 L507,1423 L509.8,1421.5 L512.6,1420.3 L515.5,1419.3 L518.5,1418.3 L521.6,1417.4 L524.7,1416.6 L527.6,1416.1 L530.2,1416.2 L532.4,1415.5 L534.4,1418.5 L536,1419.5 L537.4,1420.6 L539,1424.4 L540.9,1422.2 L542.9,1420.8 L545,1418.7 L547,1416.8 L548.8,1410.8 L550.7,1409.5 L552.5,1406.2 L554.4,1405.7 L556.2,1406.5 L557.8,1407.2 L559.4,1406.4 L560.9,1409.9 L562.5,1415.3 L564,1416.9 L565.5,1416.6 L566.9,1415.9 L568.2,1412.3 L569.5,1411.9 L570.8,1406.7 L572.1,1405.4 L573.4,1401.9 L574.8,1398.7 L576.8,1400.6 L578.9,1402.5 L580.9,1407.6 L582.7,1407.4 L584.1,1403.7 L585.4,1401.7 L586.7,1401.1 L588.3,1402.9 L590,1406.1 L591.7,1408.2 L593.3,1409.1 L594.3,1406.8 L595.2,1406.8 L596.1,1402.6 L597,1397.7 L597.8,1395.5 L598.7,1393.9 L599.5,1387.1 L600.3,1385.3 L601.2,1386.6 L602.3,1386 L603.3,1388.5 L604.3,1392.9 L605.3,1395.6 L606.5,1400 L607.8,1401.8 L610.4,1404.2 L613.1,1405 L614.5,1403 L615.9,1408 L617.2,1412.2 L618.5,1415.8 L619.8,1417.8 L621,1418.1 L622.4,1417.1 L623.6,1413.5 L624.9,1410.2 L626.3,1409.6 L627.9,1407.5 L629.5,1405.2 L631.2,1402.1 L633,1399.6 L635.3,1402.9 L637.6,1405.5 L639.6,1405.7 L640.5,1405.2 L641.1,1402 L641.5,1399.9 L641.9,1395.9 L642.2,1390.9 L642.6,1388.5 L643.1,1385.2 L643.9,1385.4 L644.9,1381.8 L647.4,1380.3 L650.3,1379.9 L652.8,1380.8 L654.1,1383.1 L655,1385.1 L655.8,1388 L656.5,1394.6 L657.3,1395.3 L658.1,1396.3 L659.1,1396 L660.1,1392.7 L661.1,1389.3 L662.2,1385.7 L663.4,1383.8 L664.6,1381.4 L666,1380.6 L667.4,1377.3 L668.8,1376.4 L670.1,1371.6 L671.3,1371.7 L672.4,1367.8 L673.2,1363.3 L674.2,1361.6 L675.6,1362 L677.8,1364.1 L680.5,1363.2 L683.2,1366.5 L685.4,1365.3 L686.6,1365.8 L687.4,1360.2 L688,1358.8 L688.5,1357 L688.9,1350.9 L689.4,1347.4 L690.2,1343.5 L691.2,1341.9 L692.9,1340.5 L694.9,1341 L697,1338 L699,1337.6 L700,1332.6 L701.9,1341.3 L703.5,1327.3 L705.3,1340.3 L708,1324.4 L709.3,1339.6 L711.5,1320.6 L714.3,1334.6 L717,1318.7 L718.8,1330.3 L719.9,1313.1 L722.8,1323.3 L725.8,1310.9 L728.1,1327.9 L730.3,1310.6 L732.7,1327.1 L734.4,1309.9 L736.6,1318.8 L738.6,1315 L741.6,1326.5 L744.2,1320.2 L747.1,1335.9 L748.4,1333 L751,1341.4 L752.8,1332.6 L754.9,1365.2 L756.2,1349.8 L757.9,1360.1 L759,1347.2 L760.6,1372.3 L762.2,1362 L764.6,1378.1 L766.7,1355.3 L768.8,1367.2 L770.6,1350.5 L773.1,1370.7 L774.4,1343 L776.7,1358.8 L777.7,1337.6 L780.1,1353.8 L781.7,1320.7 L783.8,1340.4 L785.6,1314.7 L787.8,1321.5 L790,1308.1 L792.9,1319.9 L795.7,1318.4 L797.9,1337.6 L800.8,1326.1 L803.2,1372 L805.9,1353.1 L807.4,1386 L808.8,1373.6 L810.9,1382.1 L812.7,1348.6 L813.9,1363.3 L815.4,1335.7 L816.9,1355.5 L818.6,1327.1 L819.8,1341.3 L821,1320.7 L823.6,1356.8 L826.1,1337 L827.5,1370.6 L829,1349.9 L831.4,1395.3 L833.5,1334.9 L835.8,1376.8 L837,1314.5 L838.5,1349.9 L840.9,1308.3 L842.6,1338.8 L845.3,1309.1 L846.6,1350.7 L848.6,1314.6 L850.2,1371.7 L852.6,1316.3 L855.4,1349.4 L858.2,1314.3 L859.2,1361.5 L860.9,1316.4 L863.3,1390.6 L865,1327.2 L866.3,1360.1 L868.7,1311.8 L870,1394.9 L871.8,1313.5 L874,1391.6 L876.2,1329.7 L878.1,1375.5 L879.1,1350.1 L880.6,1391.9 L882.8,1313.1 L884.1,1380 L886.9,1323.6 L889.3,1389.8 L891.9,1313.4 L894.8,1386.9 L897.2,1350.7 L899.5,1390.8 L901.9,1317.3 L904.7,1387 L905.8,1350.3 L907.3,1386.1 L909.6,1316.5 L910.7,1390.1 L912.1,1316.1 L914.5,1377.1 L916,1318.4 L918.9,1392 L921.7,1319.2 L923.3,1366.1 L925.9,1319 L928.1,1386.9 L930.7,1315.6 L932.4,1389.9 L934,1317.5 L935.9,1387.2 L937.8,1313.5 L939,1382.3 L941.5,1316.9 L944.4,1388.2 L946.4,1315.7 L948.5,1384.2 L950.8,1354.8 L953.1,1389.2 L954.4,1322.3 L957.1,1390.3 L959.3,1357 L960.7,1360.3 L963.2,1321.4 L965.8,1415.1 L967.9,1325.1 L969.4,1392.2 L971.6,1351.5 L974.5,1370.5 L976.5,1322.3 L978.6,1389.3 L979.9,1326.4 L981.1,1390.2 L982.5,1328.1 L985.2,1359.6 L987,1324.9 L989.1,1388.9 L990.9,1353.9 L993.7,1388 L995.6,1323.6 L997,1387 L998.9,1355.7 L1001.7,1352.7 L1003.9,1329.7 L1006.3,1372.6 L1008.4,1341.9 L1010.7,1386.9 L1013.5,1320.4 L1015.8,1388.7 L1018.2,1321.7 L1020,1386.3 L1021.8,1318.7 L1024.6,1389.2 L1027.3,1317.1 L1029.3,1387.3 L1031.5,1319.1 L1032.7,1386.9 L1033.8,1315.7 L1035.7,1364.3 L1038.1,1326 L1041.1,1379.9 L1043.8,1315.4 L1046.7,1387.2 L1048,1324.5 L1049.5,1392.3 L1051.6,1317 L1054.1,1387.6 L1056.3,1343.1 L1059.1,1380.2 L1061.6,1321 L1064,1391.2 L1065.7,1365.4 L1068.2,1410.7 L1069.4,1322.2 L1070.6,1371.7 L1072.1,1319.2 L1074.8,1398.3 L1075.8,1321.2" fill="none" stroke="#ff0000" stroke-width="8.0" stroke-linejoin="round"/>
<path d="M155,1491.5 L157.9,1491.4 L160.8,1491.4 L163.8,1491.3 L166.7,1491.3 L169.7,1491.2 L172.7,1491.2 L175.7,1491.1 L178.6,1491.1 L181.6,1491 L184.6,1491 L187.6,1490.9 L190.5,1490.9 L193.5,1490.8 L196.4,1490.8 L199.3,1490.7 L202.1,1490.6 L204.9,1490.6 L207.7,1490.5 L210.5,1490.4 L213.2,1490.3 L215.8,1490.1 L218.4,1490 L221.6,1489.8 L224.8,1489.7 L227.9,1489.5 L231,1489.4 L234.1,1489.3 L237.1,1489.1 L240,1488.9 L242.9,1488.7 L245.8,1488.5 L248.6,1488.2 L251.4,1487.9 L254.1,1487.5 L256.8,1487 L259.4,1486.5 L262.4,1485.8 L265.4,1485.1 L268.2,1484.2 L271.1,1483.4 L273.8,1482.4 L276.5,1481.4 L279.1,1480.3 L281.7,1479.2 L284.3,1478 L286.8,1476.7 L289.2,1475.4 L291.5,1474 L293.8,1472.5 L296,1470.9 L298.2,1469.3 L300.4,1467.6 L302.5,1465.9 L304.6,1464.2 L306.6,1462.5 L308.7,1460.7 L310.7,1458.9 L312.7,1457.2 L314.7,1455.4 L316.7,1453.6 L318.6,1451.7 L320.5,1449.8 L322.3,1447.9 L324.2,1445.8 L326,1443.7 L327.8,1441.5 L329.4,1439.4 L331,1437.2 L332.5,1435 L334,1432.6 L335.5,1430.2 L337,1427.8 L338.5,1425.3 L339.9,1422.8 L341.4,1420.3 L342.8,1417.8 L344.2,1415.3 L345.6,1412.8 L347,1410.4 L348.4,1407.9 L349.8,1405.4 L351.2,1402.9 L352.6,1400.4 L353.9,1397.9 L355.2,1395.4 L356.5,1392.9 L357.9,1390.4 L359.2,1387.9 L360.6,1385.4 L362,1382.8 L363.4,1380.3 L364.8,1377.8 L366.2,1375.2 L367.6,1372.6 L369.1,1370 L370.5,1367.4 L372,1364.8 L373.4,1362.1 L374.9,1359.6 L376.4,1357 L377.9,1354.5 L379.5,1352.1 L381,1349.8 L382.6,1347.5 L384.4,1345.1 L386.2,1342.7 L388.1,1340.4 L390,1338.3 L391.9,1336.1 L393.8,1334 L395.7,1331.9 L397.7,1329.8 L399.7,1327.7 L401.7,1325.6 L403.6,1323.5 L405.6,1321.3 L407.7,1319.1 L409.7,1316.8 L411.8,1314.5 L413.9,1312.3 L415.9,1310.2 L417.9,1308.3 L419.9,1306.5 L421.8,1305 L423.6,1303.7 L426.4,1302.1 L429.1,1301 L431.7,1300.2 L434.5,1299.6 L437.2,1299.5 L440,1299.9 L442.9,1300.3 L445.7,1300.4 L448.2,1299.6 L450.1,1298.1 L451.9,1296.1 L453.6,1293.6 L455.1,1290.8 L456.5,1287.8 L457.9,1284.8 L459.2,1281.8 L460.2,1279.2 L461,1276.4 L461.8,1273.3 L462.5,1270.2 L463.1,1267 L463.8,1263.9 L464.5,1261 L465.3,1258.4 L466.3,1256.2 L467.4,1254.5 L469.2,1252.6 L471.2,1251.2 L473.4,1250.4 L475.6,1250.4 L477.2,1251.2 L479,1252.8 L480.7,1255.1 L482.6,1257.7 L484.4,1260.5 L486.3,1263.1 L488.2,1265.4 L490.1,1267.2 L492,1268.1 L494.7,1268.2 L497.5,1267.3 L500.2,1265.9 L503,1264.3 L505.7,1262.7 L508.1,1261.1 L510.4,1259.1 L512.7,1257 L515,1255.1 L517.2,1253.7 L519.4,1253.1 L521.7,1253.5 L524,1254.7 L526.2,1256.3 L528.3,1258.2 L530.3,1259.9 L532.1,1261.9 L533.9,1264.3 L535.5,1266.6 L537.1,1268.3 L538.5,1268.9 L539.8,1268 L540.9,1266 L541.9,1263.3 L542.9,1260.5 L544,1258 L545,1247.5 L547.1,1256.2 L548.8,1234.2 L549.9,1245.5 L551.2,1238.7 L552.2,1247.9 L554.2,1229 L556.4,1238.5 L557.6,1231.3 L558.6,1243.8 L560.1,1237.2 L561.2,1252.1 L562,1235.8 L563.3,1253.9 L564.9,1234.7 L566.4,1249.8 L567.5,1231.6 L569.2,1237.7 L570.5,1229 L572.3,1238.7 L574,1236.3 L575.8,1241.2 L576.6,1232.9 L577.7,1246.1 L578.5,1242.1 L579.5,1247.7 L581,1237.3 L582,1243.8 L582.8,1233.9 L584.6,1216 L586.5,1229.5 L587.9,1239.4 L589,1220.9 L590.9,1229.5 L592.7,1223.8 L594.1,1235.6 L595.3,1236.9 L596.4,1240.1 L597.5,1224.3 L599.7,1234.2 L601.7,1222.6 L603.9,1229.1 L605.6,1228.1 L607.6,1228.8 L609,1230.1 L610.2,1239.1 L611.1,1226.3 L611.9,1239.6 L613.2,1223.4 L614,1233.1 L615.8,1226.4 L617.4,1242.6 L619.4,1226.4 L621.4,1229.9 L622.3,1223.1 L623.1,1231.2 L624.8,1232.2 L626,1242.6 L627.9,1222.3 L629.3,1241.9 L630.5,1227.9 L631.7,1233.4 L633.7,1214 L635.1,1229.5 L636.4,1229 L637.4,1236.7 L639.4,1221 L640.5,1226.5 L641.2,1227.8 L643.2,1236.7 L644.4,1215 L646.6,1235.8 L648.4,1224.6 L650.1,1237.8 L651.9,1231.9 L653.2,1235.9 L655.3,1227.5 L656.1,1243.4 L658.2,1233.8 L660.2,1250 L661.8,1239.9 L663.5,1248.2 L664.5,1238.5 L666.4,1248.7 L668.3,1229.9 L669.7,1242.1 L670.7,1224.7 L672.8,1243.5 L673.9,1221.4 L674.9,1240.7 L677.1,1220.8 L679.3,1235.8 L681.5,1227.8 L682.9,1237.7 L683.8,1216.7 L684.6,1238.6 L686.4,1228.1 L687.9,1241 L689.2,1233.6 L690.6,1228.7 L692,1217.7 L694.1,1231.4 L696.1,1234 L697.5,1248.4 L698.4,1239 L700.2,1245.5 L701.6,1256.5 L703,1234.7 L704,1256.5 L705.3,1233.8 L706.2,1230.3 L708.1,1241.6 L709,1236.8 L710.8,1239.2 L712.8,1233.7 L715,1250 L716.3,1228.2 L718.5,1249.7 L719.7,1223.2 L721.1,1235.4 L722.4,1223.4 L724.2,1236.8 L725.3,1230.5 L726.4,1243.8 L728.3,1230.6 L729.9,1241.2 L731.2,1233.9 L733.2,1235.5 L734.7,1223.3 L736,1236 L737.3,1222.8 L738.4,1240.7 L739.5,1222.8 L741,1233 L742.7,1256.5 L744.8,1256.5 L746.9,1226.8 L748.9,1243.6 L749.7,1234.5 L750.8,1246.6 L751.9,1230.4 L752.9,1233.5 L753.9,1234.6 L755.8,1232.1 L757.7,1228.6 L759.5,1234.4 L760.9,1233.9 L762.1,1247.1 L763.5,1224.6 L764.5,1250 L766.1,1226.4 L768.1,1236.9 L769.8,1231.6 L771.2,1243.4 L772.9,1227.1 L774.6,1232 L775.8,1233.5 L777.3,1243.6 L779.1,1216 L781.2,1245.2 L782.7,1229.8 L784.1,1236.9 L786.1,1226.4 L787.5,1240.5 L789,1235.3 L790.9,1245.5 L792.1,1235.1 L794,1244.8 L796.1,1227.7 L797.3,1245.7 L799.4,1251 L801.4,1236.2 L803.1,1235.9 L804.7,1241.2 L806.4,1236.7 L807.3,1245.9 L809.3,1235.4 L810.6,1234 L812.2,1225.5 L813.5,1245.3 L815.3,1227.8 L816.9,1245.8 L818.8,1238.7 L820.2,1245.3 L821.9,1239.5 L823.3,1242.6 L825.1,1225.3 L825.8,1244.9 L826.8,1228.2 L828.8,1246 L830.6,1256.5 L831.7,1256.5 L833.5,1236.3 L834.4,1215 L835.8,1230.3 L838,1243.8 L838.8,1237.4 L839.7,1244.8 L840.7,1233.2 L841.5,1245 L842.9,1228.9 L844.8,1244.9 L846.5,1232 L848.5,1234 L850.1,1225.1 L852.3,1233.5 L853.5,1239.4 L855.5,1240 L856.9,1231.8 L858.7,1232.6 L860.7,1225 L861.8,1236.5 L863.8,1227.6 L865.8,1233 L867.4,1226.4 L869.3,1232.4 L870.6,1225.9 L872.6,1244.7 L874.7,1226 L876.5,1241.3 L877.6,1237.1 L879,1215 L881,1226 L883,1237.3 L884.5,1256 L885.6,1256 L886.8,1232.2 L888.4,1245.9 L890.6,1225.2 L892.3,1241.9 L894,1225.9 L894.7,1244.3 L896.8,1234.2 L897.9,1238.5 L900.1,1237.4 L902.3,1245.9 L903.4,1225.1 L904.2,1232.9 L905.6,1238.6 L906.5,1238.9 L907.4,1256 L909,1231.8 L910.7,1256 L911.7,1231.4 L912.8,1225.4 L914.1,1232.5 L916.1,1226.3 L917.9,1231.5 L918.7,1226.3 L920.9,1216 L922.5,1228.4 L923.8,1245.8 L925.3,1225.4 L926.2,1243.7 L928,1225.1 L930.2,1250 L932.2,1228.9 L933.7,1244.4 L935.7,1232.8 L936.9,1237.9 L938.6,1225.4 L939.5,1236.9 L940.4,1230.5 L941.8,1245.5 L943.8,1225.3 L945.3,1244.5 L946.2,1227.8 L948.3,1241.2 L949.8,1225.4 L950.8,1244.3 L953.1,1228.3 L954.3,1215 L956.1,1226.6 L956.9,1239.6 L957.8,1226.4 L959.4,1245.3 L961.5,1226 L962.4,1244.7 L964.3,1225.1 L965.1,1252 L966.3,1226 L968.1,1236.6 L969.2,1226.2 L970.5,1243.2 L972.5,1226.4 L974.5,1243.7 L976.7,1238.1 L977.8,1244.6 L979.1,1225.6 L980.7,1245.1 L982.2,1228.6 L984,1233 L985.2,1231.9 L987.1,1244.5 L989.3,1250 L990.8,1243.6 L993,1225.3 L993.9,1244.6 L994.7,1226.2 L995.8,1245 L997.4,1236 L998.3,1234.9 L999.1,1225.8 L1000.6,1245.8 L1002,1226 L1004,1245 L1005.9,1226.4 L1008,1245.3 L1010,1252 L1012.2,1239.6 L1013.3,1225.7 L1015.5,1232.4 L1017.5,1227.8 L1019,1232.1 L1020.2,1235.1 L1021.5,1243 L1022.9,1227.4 L1023.8,1234.1 L1026,1237.3 L1028,1243.5 L1029.8,1251 L1030.9,1232.3 L1032.6,1225.9 L1034,1240.3 L1035.2,1228.6 L1036.8,1237.4 L1038,1233.8 L1039,1245.8 L1040.2,1214 L1041.3,1245.1 L1043.3,1234.3 L1045,1244.8 L1046.5,1234.8 L1047.9,1245.6 L1049,1231.9 L1050.6,1252 L1052.7,1225.9 L1054.1,1244.3 L1055.3,1229.1 L1056.2,1238.4 L1057,1225.7 L1058.9,1245.6 L1061.1,1216 L1062.3,1244.9 L1064,1237.4 L1065.5,1250 L1067.4,1237 L1069.2,1242.3 L1071.3,1226.3 L1072.9,1231.8 L1074.5,1237" fill="none" stroke="#00ff00" stroke-width="8.0" stroke-linejoin="round"/>
<path d="M155,1490.5 L157.8,1490.4 L160.6,1490.3 L163.3,1490.2 L166.1,1490.1 L168.9,1490 L171.7,1489.9 L174.5,1489.8 L177.2,1489.7 L180,1489.5 L182.7,1489.3 L185.5,1489.2 L188.2,1489.1 L190.9,1488.9 L193.7,1488.8 L196.4,1488.6 L199.2,1488.3 L201.9,1487.9 L204.7,1487.5 L207.4,1487 L210.2,1486.4 L213,1485.8 L215.8,1485.1 L218.6,1484.4 L221.4,1483.6 L224.1,1482.8 L226.9,1481.9 L229.5,1481 L232.1,1480 L234.7,1478.9 L237.3,1477.8 L239.8,1476.6 L242.3,1475.4 L244.8,1474.1 L247.2,1472.8 L249.5,1471.4 L251.8,1470 L254,1468.5 L256.3,1466.9 L258.4,1465.2 L260.5,1463.5 L262.5,1461.7 L264.5,1459.9 L266.5,1458 L268.4,1456 L270.4,1454 L272.3,1451.9 L274.2,1449.7 L276.1,1447.5 L278,1445.2 L279.8,1442.8 L281.6,1440.4 L283.4,1438 L285.1,1435.5 L286.8,1433 L288.3,1430.7 L289.8,1428.4 L291.2,1426 L292.6,1423.6 L294,1421.2 L295.3,1418.8 L296.6,1416.3 L297.9,1413.7 L299.2,1411.1 L300.5,1408.4 L301.6,1405.9 L302.8,1403.4 L303.9,1400.8 L304.9,1398.1 L306,1395.4 L307.1,1392.7 L308.1,1389.9 L309.1,1387.1 L310.2,1384.3 L311.2,1381.4 L312.2,1378.6 L313.2,1375.7 L314.2,1372.8 L315.1,1370.2 L316,1367.6 L316.8,1365 L317.7,1362.3 L318.6,1359.6 L319.4,1356.9 L320.3,1354.2 L321.1,1351.4 L322,1348.7 L322.8,1345.9 L323.6,1343.1 L324.5,1340.3 L325.3,1337.5 L326.1,1334.7 L327,1331.9 L327.8,1329.1 L328.6,1326.4 L329.4,1323.7 L330.1,1321 L330.9,1318.3 L331.7,1315.6 L332.5,1312.8 L333.3,1310 L334,1307.3 L334.8,1304.5 L335.6,1301.7 L336.4,1298.9 L337.1,1296.1 L337.9,1293.4 L338.6,1290.6 L339.3,1287.9 L340.1,1285.2 L340.8,1282.5 L341.5,1279.8 L342.2,1277 L343,1274.2 L343.7,1271.3 L344.3,1268.5 L345,1265.7 L345.7,1262.9 L346.4,1260.1 L347,1257.3 L347.7,1254.6 L348.3,1251.8 L349,1249.1 L349.7,1246.4 L350.4,1243.8 L351.1,1241.1 L351.8,1238.5 L352.5,1236 L353.4,1233.1 L354.2,1230.2 L355.1,1227.4 L356,1224.6 L356.9,1221.8 L357.8,1219.1 L358.7,1216.4 L359.6,1213.7 L360.6,1211 L361.5,1208.4 L362.5,1205.8 L363.4,1203.2 L364.4,1200.3 L365.5,1197.5 L366.5,1194.6 L367.5,1191.8 L368.6,1189 L369.6,1186.2 L370.7,1183.5 L371.9,1180.9 L373.1,1178.4 L374.4,1175.9 L375.9,1173.2 L377.4,1170.6 L379,1168.1 L380.6,1165.6 L382.3,1163.3 L384.1,1161 L386,1158.8 L388,1156.7 L390.1,1154.7 L392.4,1152.8 L394.8,1151.1 L397.3,1149.4 L399.9,1147.8 L402.4,1146.2 L404.8,1144.6 L407.2,1143 L409.6,1141.2 L411.9,1139.3 L414.2,1137.4 L416.4,1135.5 L418.8,1134 L421.1,1132.8 L423.6,1132.1 L426.2,1132.2 L429,1133 L431.8,1134.3 L434.6,1135.8 L437.4,1137 L440.1,1137.7 L442.7,1137.6 L445,1136.6 L447.1,1135.1 L449.2,1133.1 L451.2,1130.7 L453.2,1128.2 L455.2,1125.7 L457.2,1123.3 L459.2,1121.1 L461.2,1119 L463.2,1116.7 L465.3,1114.2 L467.3,1111.9 L469.3,1109.7 L471.4,1108 L473.5,1106.7 L475.6,1106.1 L477.9,1106.3 L480.2,1107.4 L482.6,1109 L484.9,1110.9 L487.3,1112.8 L489.7,1114.5 L492,1115.7 L494.7,1116.7 L497.4,1117.6 L500.1,1118.2 L502.9,1118.5 L505.7,1118.4 L508,1117.8 L510.2,1116.7 L512.5,1115.2 L514.9,1113.5 L517.3,1111.9 L519.7,1110.5 L522.2,1109.4 L524.8,1108.8 L527.4,1108.9 L530.2,1109.5 L533.2,1110.6 L536.1,1111.8 L539.1,1113.2 L542,1114.4 L544.7,1115.3 L547.2,1115.8 L549.5,1115.7 L552.1,1114.6 L554.3,1112.8 L556.4,1110.5 L558.3,1108.2 L560.4,1106.1 L562,1107.5 L563.7,1111.8 L565,1106.7 L565.8,1111.2 L566.7,1109.8 L567.7,1111.7 L569.8,1108.4 L572,1111.6 L573.2,1106.6 L574.4,1110.9 L576.1,1108.3 L577.6,1112 L578.7,1104.4 L579.9,1110 L581.1,1109.4 L582.2,1114.5 L584.3,1108 L586.5,1111.8 L588.4,1106.7 L589.2,1108.9 L590.8,1108.1 L592.6,1113.7 L594,1110.2 L595.5,1111.2 L597.3,1110.3 L599.3,1111.8 L601,1106.7 L602,1112 L603.9,1106.6 L605.3,1111.2 L606.7,1110 L608.7,1110.5 L610.1,1110 L612.2,1111.9 L613.3,1106.7 L615,1112 L616.4,1108.9 L618.5,1109.7 L620.2,1112.6 L622.3,1108.6 L624.3,1105.8 L625.2,1111.2 L626,1106.6 L627.3,1112 L628.2,1112.6 L629,1109.4 L630,1106.7 L631.3,1111.6 L633.5,1103.6 L634.4,1111.8 L635.6,1107.6 L636.4,1109.7 L637.3,1107.1 L638.9,1108.6 L640.7,1106.7 L641.7,1109.7 L643.6,1104.2 L645.5,1108.6 L647.5,1109.5 L648.6,1110.3 L649.4,1106.6 L650.5,1108.3 L652,1110.3 L654.1,1110.7 L655.2,1106.6 L656.9,1108.7 L658.4,1109.7 L659.3,1108.4 L661.2,1108.6 L662.2,1110.4 L664.1,1108.4 L665.5,1109.1 L666.5,1113.4 L668.6,1103.8 L670.6,1109.2 L671.9,1111 L672.6,1109.2 L674.2,1110 L676.2,1107.7 L677.4,1111.9 L679,1106.7 L680,1103.1 L681.4,1110 L682.8,1109.8 L684.3,1103.3 L685.7,1112 L687.7,1106.7 L689.5,1110.4 L691,1109.6 L692,1110.6 L693.1,1108.7 L694.7,1108.4 L696.1,1108.7 L697.6,1110 L699.2,1106.2 L701,1108.3 L702.1,1110.2 L704.1,1111.9 L705.6,1106.6 L706.4,1106.2 L708.5,1106.8 L710.2,1116.4 L712.4,1106.9 L713.8,1108.2 L715.8,1105.6 L717.3,1110.8 L718.5,1107.1 L720.1,1112.7 L721.4,1108.7 L722.2,1108.8 L724.4,1104.5 L725.2,1110.6 L726.2,1110.1 L728.2,1111.9 L730.3,1109.4 L731.2,1111.7 L732.6,1106.9 L734.3,1115.1 L736.3,1106.9 L737.7,1105.8 L739.9,1106.6 L741.4,1112 L742.4,1116.4 L743.6,1108.9 L744.8,1107.6 L746.1,1111.9 L746.8,1108.9 L747.9,1108.4 L748.8,1108.5 L750.3,1110.2 L751.8,1103.4 L753.1,1109.1 L754.8,1108.2 L755.6,1114.1 L757.5,1106.6 L758.3,1108.6 L760.1,1106.6 L761.3,1110.9 L762.7,1106.9 L764.9,1116.5 L767.1,1103.8 L767.9,1109.9 L769.4,1106.7 L770.1,1113.7 L771.5,1106.5 L772.7,1111.7 L774.2,1104.5 L776,1110.2 L777.3,1107.5 L779.1,1114.9 L781.1,1109.1 L783,1111 L784.5,1103.1 L786.5,1109.5 L788.6,1109.3 L789.6,1111.9 L790.9,1106.9 L792.5,1109.4 L794.3,1107.1 L796.2,1109.8 L797.8,1107.3 L799.7,1113.1 L800.8,1107.7 L802.7,1109.8 L804,1109.3 L805.9,1109.3 L806.7,1106.6 L808.6,1109.6 L809.4,1106.6 L811.1,1113.3 L812.3,1108.6 L813.8,1111.6 L814.8,1110.1 L815.6,1108.7 L817.8,1107.9 L818.9,1116.3 L820.5,1106.7 L822.7,1111.6 L824.2,1109.4 L825.3,1109.8 L826.1,1106.7 L827.5,1111 L828.8,1103.1 L829.5,1108.7 L830.4,1109.4 L832.5,1115.3 L833.9,1109 L835.2,1110.5 L836,1106.9 L837.2,1110.6 L838.3,1107.7 L839.6,1108.5 L841.6,1110.1 L843.8,1109.1 L844.6,1108.5 L846.5,1110.5 L847.3,1104 L848.7,1110.5 L850.6,1107.9 L852.3,1113.4 L853.7,1106.6 L854.7,1109.8 L855.8,1110.3 L857.2,1111.9 L858.1,1107.4 L859.2,1111.7 L861.3,1108.4 L862.7,1110.2 L864,1106.6 L866.2,1111.8 L867.8,1107.8 L869,1112.6 L870.4,1109.9 L872.5,1112 L874.3,1106.3 L875.9,1111.8 L878.1,1114 L880.3,1112 L881.3,1109.3 L883.4,1109.3 L885.3,1105.2 L886.1,1110.7 L888.3,1108.1 L889.2,1111.7 L891,1106.5 L892.5,1110.2 L893.6,1107.1 L894.8,1108.3 L896.5,1108.6 L897.6,1111.6 L899.4,1107.1 L900.9,1110.1 L902.1,1110.1 L903.2,1106.4 L904.6,1107.7 L906.5,1109.8 L907.6,1116.1 L909.5,1111.9 L911.4,1106.9 L912.9,1111.9 L914.3,1110.2 L915.3,1110.7 L917.5,1115 L918.3,1108.5 L920.4,1110.3 L922.5,1110.8 L924.7,1116.5 L926.4,1110.2 L927.7,1103.9 L928.9,1108.3 L929.8,1107.7 L931.1,1108.7 L932.5,1106.7 L933.8,1110.8 L935.1,1107.1 L936.4,1108.9 L937.3,1106.5 L939.4,1111.7 L941.5,1107.9 L943.7,1110.6 L945.5,1108 L946.3,1108.4 L948,1107.1 L949.1,1108.3 L951.2,1104.1 L952.6,1108.4 L953.7,1109.5 L955.6,1109.4 L956.9,1108.2 L958.8,1103.7 L960.7,1106.5 L961.5,1110.4 L963.7,1110.3 L964.9,1112 L966.4,1108.5 L967.5,1109.4 L969.2,1109.8 L971,1111.6 L972.1,1108.3 L974,1111.9 L975.1,1106.9 L976.7,1110.1 L979,1115.1 L980.9,1108.2 L981.8,1109.8 L983.9,1111.3 L985,1106.6 L987.3,1108.4 L988.6,1108.5 L989.7,1108.3 L990.6,1109.1 L991.7,1111 L992.7,1106.8 L994.5,1112 L995.7,1107.7 L996.9,1111.7 L998.5,1106.5 L999.8,1109.3 L1000.7,1106.8 L1002.1,1111.9 L1004.3,1108.9 L1005.6,1115.5 L1007.8,1107.7 L1009.7,1112 L1011.8,1109.8 L1013.1,1109.9 L1014.1,1106.7 L1015.8,1111.2 L1017.5,1108.7 L1018.5,1111.8 L1020.6,1106.7 L1022.6,1110.8 L1023.5,1110.3 L1025,1111.6 L1026.3,1109.1 L1028.3,1111.7 L1029.4,1109.8 L1031.4,1111.9 L1032.7,1108.3 L1033.7,1112.5 L1035.8,1106.7 L1037.6,1111.6 L1038.6,1108.9 L1040.3,1113.2 L1041.9,1109.2 L1043.3,1111.4 L1045,1107.8 L1046.9,1109.9 L1047.9,1107.4 L1048.8,1111.1 L1050.3,1107.2 L1052,1111.7 L1053.9,1107.2 L1055.4,1108.3 L1056.3,1110.3 L1058.2,1104.2 L1060.4,1110.2 L1062.5,1114.2 L1064.7,1106.7 L1066.6,1111.6 L1067.7,1107.5 L1069.2,1110.8 L1070.4,1108.1 L1071.2,1111.9 L1073.3,1110 L1074.3,1111.1 L1075.9,1113" fill="none" stroke="#0000ff" stroke-width="8.0" stroke-linejoin="round"/>
<rect x="294" y="1110.2" width="781" height="4.5" fill="#0000ff"/>
<rect x="294" y="1215.7" width="781" height="4.5" fill="#00ff00"/>
<rect x="294" y="1261.2" width="781" height="4.5" fill="#ff0000"/>
</g>
<g clip-path="url(#cp11)">
<path d="M1272.5,1491.5 L1275.4,1491.5 L1278.4,1491.4 L1281.4,1491.4 L1284.4,1491.4 L1287.5,1491.4 L1290.5,1491.3 L1293.6,1491.3 L1296.7,1491.3 L1299.8,1491.3 L1302.9,1491.3 L1306,1491.3 L1309.1,1491.2 L1312.2,1491.2 L1315.3,1491.2 L1318.5,1491.2 L1321.6,1491.2 L1324.7,1491.2 L1327.8,1491.2 L1330.9,1491.2 L1334,1491.1 L1337.1,1491.1 L1340.1,1491.1 L1343.2,1491.1 L1346.2,1491.1 L1349.2,1491 L1352.2,1491 L1355.1,1491 L1358.1,1490.9 L1360.9,1490.9 L1363.8,1490.8 L1366.6,1490.8 L1369.4,1490.7 L1372.2,1490.7 L1374.9,1490.6 L1377.6,1490.5 L1380.2,1490.5 L1382.8,1490.4 L1385.4,1490.3 L1387.9,1490.2 L1390.3,1490.1 L1392.7,1490 L1396.1,1489.8 L1399.4,1489.7 L1402.7,1489.5 L1405.9,1489.3 L1409,1489.2 L1412.1,1489 L1415.1,1488.8 L1418.1,1488.6 L1421,1488.4 L1423.8,1488.2 L1426.6,1487.9 L1429.4,1487.7 L1432.1,1487.4 L1434.7,1487.2 L1437.3,1486.9 L1439.9,1486.6 L1442.4,1486.2 L1444.9,1485.9 L1447.4,1485.5 L1450.5,1485 L1453.5,1484.5 L1456.4,1483.9 L1459.2,1483.4 L1461.9,1482.8 L1464.6,1482.2 L1467.2,1481.5 L1469.8,1480.8 L1472.5,1480.1 L1475.1,1479.3 L1477.8,1478.4 L1480.4,1477.5 L1482.9,1476.6 L1485.5,1475.7 L1488.1,1474.7 L1490.6,1473.7 L1493.2,1472.6 L1495.7,1471.5 L1498.2,1470.3 L1500.7,1469.1 L1503.2,1467.9 L1505.7,1466.6 L1508.2,1465.2 L1510.6,1463.8 L1513,1462.4 L1515.4,1460.9 L1517.9,1459.3 L1520.3,1457.7 L1522.6,1456.1 L1525,1454.4 L1527.4,1452.7 L1529.7,1451 L1532,1449.2 L1534.2,1447.5 L1536.4,1445.7 L1538.6,1443.9 L1540.8,1442 L1543,1440.1 L1545.1,1438.2 L1547.2,1436.3 L1549.2,1434.3 L1551.2,1432.4 L1553.2,1430.3 L1555.2,1428.3 L1557.2,1426.2 L1559.1,1424 L1561.1,1421.8 L1563,1419.6 L1564.8,1417.4 L1566.6,1415.1 L1568.3,1412.8 L1570.1,1410.3 L1571.8,1407.9 L1573.5,1405.4 L1575.2,1402.9 L1576.8,1400.3 L1578.5,1397.8 L1580.3,1395.4 L1582,1392.9 L1583.7,1390.6 L1585.5,1388.3 L1587.3,1386.1 L1589.3,1383.9 L1591.2,1381.7 L1593.2,1379.7 L1595.2,1377.7 L1597.2,1375.7 L1599.3,1373.8 L1601.3,1370.9 L1603.4,1370.3 L1605.4,1369.1 L1607.5,1366.5 L1609.5,1363 L1611.6,1362.5 L1613.5,1361.2 L1615.5,1357.8 L1617.4,1353.8 L1619.4,1353.7 L1621.4,1351.5 L1623.4,1347.3 L1625.3,1344.3 L1627.3,1342 L1629.3,1340.8 L1631.2,1339.7 L1633.2,1336.9 L1635.2,1335.9 L1637.1,1332 L1639,1330.8 L1641.7,1330.6 L1644.4,1329.2 L1647.1,1327.6 L1649.8,1327.8 L1652.4,1325.9 L1654.9,1323.9 L1657.2,1323.5 L1659,1320.6 L1660.7,1320.5 L1662.3,1317.4 L1663.8,1315.5 L1665.3,1313.3 L1666.7,1309.7 L1668.1,1307.8 L1669.5,1303.9 L1670.9,1304.5 L1672.4,1301.2 L1674.2,1300.2 L1676,1295.1 L1677.7,1294.8 L1679.5,1293.1 L1681.2,1289.7 L1682.9,1286.8 L1684.6,1284.7 L1686,1282.4 L1687.4,1282 L1688.8,1277.4 L1690.2,1277.1 L1691.6,1273.3 L1692.9,1271.2 L1694.2,1268.9 L1695.5,1266.6 L1696.7,1265 L1698.4,1262.3 L1700.1,1259.2 L1701.7,1258.4 L1703.6,1254.9 L1705.4,1254.8 L1707.3,1253.5 L1709.3,1252.1 L1711.4,1249.2 L1713.4,1249.3 L1715.5,1248.5 L1717.7,1245.5 L1719.9,1243.5 L1722.1,1242.9 L1724.3,1242.6 L1726.4,1238.4 L1728.7,1236.3 L1730.9,1236 L1733.1,1234.7 L1735,1233.1 L1736.5,1229.8 L1737.6,1229.5 L1738.2,1224.7 L1738.6,1223.9 L1739.2,1219.2 L1740.1,1216.6 L1741.3,1214.8 L1742.8,1212.5 L1744.5,1211.8 L1746.2,1209.9 L1748,1206.6 L1749.6,1207 L1751.1,1203.1 L1752.7,1199.9 L1754.3,1197.7 L1755.8,1197.1 L1757.2,1195.2 L1758.4,1190.2 L1759.3,1187.3 L1760,1187 L1760.6,1182.5 L1761.3,1182.1 L1762.1,1177.9 L1763.2,1175.9 L1764.8,1172.6 L1766.7,1171.8 L1768.7,1168.6 L1770.8,1166.1 L1772.9,1165.9 L1775.1,1161.4 L1777.5,1161.5 L1779.8,1157.6 L1782,1157.5 L1783.9,1154.5 L1785.2,1153.7 L1786.1,1148.6 L1787,1147.6 L1787.8,1144.4 L1788.7,1143.6 L1790,1141.6 L1791.7,1138.9 L1793.6,1136.1 L1795.6,1134.9 L1797.7,1133.7 L1799.7,1132.8 L1801.7,1130.5 L1803.6,1128.8 L1805.5,1128.9 L1807.5,1126.7 L1809.4,1123.8 L1811.2,1123.9 L1813.1,1119 L1814.9,1117.7 L1816.7,1114.1 L1818.6,1114.5 L1820.4,1113.5 L1822.9,1111.6 L1825.4,1114.1 L1827.7,1114.5 L1829.7,1111.2 L1831.4,1109 L1833.7,1107.4 L1835.8,1107.8 L1838.3,1104.9 L1841,1106.1 L1843.9,1105.5 L1846.7,1104.5 L1849.5,1104.1 L1852.1,1103.9 L1854.8,1100.5 L1857.6,1101.3 L1860.3,1098.1 L1862.9,1097.9 L1865.4,1096.6 L1867.8,1093 L1870.3,1093.6 L1872.5,1092.4 L1874.7,1088.6 L1876.8,1086.1 L1879,1084.8 L1880,1084.7 L1882.5,1086.7 L1883.6,1083.8 L1884.7,1086 L1886.9,1084.5 L1887.8,1085 L1890,1082.5 L1891.3,1084.2 L1892.2,1082.8 L1894.7,1084.1 L1895.8,1082.3 L1898,1084.1 L1899.8,1082.4 L1901.6,1083.7 L1902.9,1083.3 L1905.1,1084.2 L1906.5,1082.3 L1908.3,1084.1 L1909.8,1082.3 L1911.9,1082.9 L1914,1082.5 L1916.2,1082.5 L1917.9,1081.9 L1919.5,1081.9 L1922.2,1081.5 L1924.7,1080.7 L1926.3,1079.7 L1927.4,1079.6 L1930,1078 L1931.5,1078.4 L1932.9,1076.8 L1935.2,1078.1 L1937.1,1077.9 L1939.2,1080.8 L1941.3,1079.4 L1943.3,1083.6 L1945.4,1083.9 L1947.4,1091.5 L1949.1,1085.2 L1950.9,1087.6 L1953.5,1083.3 L1955.3,1086.6 L1956.5,1085 L1958.6,1086.8 L1961,1083.7 L1963.4,1086.2 L1964.6,1080.8 L1966.2,1083.4 L1967.9,1078.4 L1970.6,1081 L1972.3,1078.8 L1973.5,1080.6 L1975.3,1075.4 L1976.8,1082.7 L1978.1,1076.2 L1979.3,1082.2 L1980.8,1078.2 L1981.9,1084.8 L1983.1,1081.1 L1985.1,1098.4 L1986.8,1083.1 L1988.3,1095.7 L1990.6,1083.5 L1992.6,1091.6 L1995.2,1083.7 L1997.3,1085.2 L1999.6,1077.7 L2001.4,1079.4 L2002.3,1078.9 L2004.1,1080.7 L2005.8,1079.6 L2007.6,1080.7 L2009.7,1080.3 L2010.7,1082 L2013,1080.2 L2014.3,1084.5 L2015.3,1079.7 L2017.3,1084.4 L2019.4,1079.2 L2021.6,1084.1 L2024.3,1081.7 L2025.4,1085 L2026.3,1078.6 L2027.7,1088.3 L2030.2,1078.2 L2031.8,1090.4 L2034.3,1081.4 L2035.6,1090.3 L2037.5,1072 L2039.3,1084.6 L2041.6,1072.7 L2043.5,1088.8 L2045.4,1072.5 L2046.9,1088.1 L2048.3,1081.2 L2050.3,1088.4 L2052,1076.7 L2053.6,1088.1 L2056.1,1075.4 L2057.3,1084.2 L2059.7,1072.4 L2061.8,1090.5 L2064.2,1072.4 L2065.5,1089.4 L2067.8,1076.4 L2069.9,1086.7 L2072,1071.1 L2074.1,1085.3 L2075.6,1071.7 L2077.1,1084.2 L2079.6,1072.2 L2080.8,1078.4 L2082.4,1071.6 L2084.4,1090.2 L2085.5,1072.2 L2087.2,1089.1 L2089.6,1072.7 L2092.3,1085.5 L2093.7,1072.8 L2095.5,1090 L2097.2,1080.3 L2099.1,1092.3 L2100.5,1082.8 L2101.8,1089.8 L2103.8,1078 L2106.4,1089.6 L2107.9,1073.9 L2110.1,1091.9 L2111.6,1075 L2112.6,1084.2 L2114.6,1074.8 L2116.4,1093.9 L2117.6,1080.4 L2119.1,1090.8 L2120.3,1079.8 L2122.8,1087 L2123.9,1075.7 L2125,1092.2 L2126.2,1074.4 L2128,1087 L2129.3,1073.9 L2130.4,1089.8 L2132.2,1074.9 L2134.8,1087.8 L2136.7,1075.5 L2139,1086.4 L2139.9,1072.1 L2141.4,1083.5 L2143.3,1071.8 L2145.6,1085.1 L2147,1081.4 L2147.9,1081.2 L2150.3,1073.6 L2152,1089.4 L2154.6,1073.9 L2155.7,1091.1 L2157.8,1074.6 L2159,1091.5 L2160.4,1084.9 L2162.8,1090.3 L2165.1,1081.5 L2167.1,1088.8 L2169.5,1074.5 L2171.7,1088 L2174.4,1080.9 L2175.5,1081 L2178,1085.1 L2180.4,1089 L2182.8,1084.6 L2184.2,1086.7 L2186.8,1072.8 L2189.1,1092.5 L2190.5,1071.8 L2191.8,1091.7" fill="none" stroke="#ff0000" stroke-width="8.0" stroke-linejoin="round"/>
<path d="M1272.5,1491.5 L1275.5,1491.4 L1278.5,1491.4 L1281.5,1491.3 L1284.6,1491.3 L1287.6,1491.2 L1290.7,1491.2 L1293.8,1491.1 L1296.9,1491.1 L1300,1491.1 L1303,1491 L1306.1,1491 L1309.1,1490.9 L1312.2,1490.9 L1315.2,1490.8 L1318.2,1490.7 L1321.2,1490.7 L1324.1,1490.6 L1327,1490.5 L1329.9,1490.4 L1332.8,1490.3 L1335.5,1490.2 L1338.3,1490.1 L1341,1490 L1344.1,1489.9 L1347.2,1489.7 L1350.3,1489.6 L1353.3,1489.5 L1356.3,1489.4 L1359.2,1489.3 L1362.2,1489.2 L1365,1489.1 L1367.9,1488.9 L1370.7,1488.7 L1373.4,1488.5 L1376.1,1488.2 L1378.8,1487.9 L1381.5,1487.5 L1384.1,1487 L1386.6,1486.5 L1389.7,1485.8 L1392.7,1485 L1395.6,1484.1 L1398.4,1483.2 L1401.2,1482.2 L1404,1481.1 L1406.7,1480 L1409.3,1478.8 L1411.9,1477.5 L1414.5,1476.2 L1417,1474.8 L1419.4,1473.4 L1421.8,1471.9 L1424.1,1470.4 L1426.4,1468.7 L1428.6,1467.1 L1430.8,1465.3 L1432.9,1463.6 L1435.1,1461.8 L1437.2,1459.9 L1439.2,1458 L1441.3,1456.1 L1443.4,1454.1 L1445.4,1452.1 L1447.5,1450.1 L1449.4,1448 L1451.4,1445.8 L1453.3,1443.7 L1455.2,1441.4 L1457.1,1439.1 L1459,1436.7 L1460.8,1434.3 L1462.6,1431.7 L1464.1,1429.4 L1465.7,1427 L1467.2,1424.6 L1468.7,1422.1 L1470.1,1419.5 L1471.6,1416.9 L1473,1414.3 L1474.4,1411.6 L1475.8,1408.8 L1477.2,1406.1 L1478.6,1403.3 L1479.9,1400.5 L1481.3,1397.8 L1482.6,1395 L1483.9,1392.2 L1485.1,1389.6 L1486.2,1387.1 L1487.4,1384.5 L1488.5,1381.9 L1489.6,1379.3 L1490.7,1376.6 L1491.8,1374 L1492.9,1371.3 L1493.9,1368.6 L1495,1365.9 L1496,1363.2 L1497,1360.5 L1498.1,1357.7 L1499.1,1355 L1500.1,1352.2 L1501.2,1349.4 L1502.2,1346.6 L1503.1,1344 L1504.1,1341.4 L1505,1338.7 L1505.9,1336 L1506.9,1333.3 L1507.8,1330.6 L1508.7,1327.9 L1509.6,1325.1 L1510.5,1322.4 L1511.4,1319.6 L1512.3,1316.8 L1513.2,1314 L1514.1,1311.3 L1515,1308.5 L1515.9,1305.7 L1516.8,1302.9 L1517.7,1300.2 L1518.6,1297.4 L1519.5,1294.6 L1520.4,1291.9 L1521.3,1289.2 L1522.2,1286.4 L1523.1,1283.6 L1524,1280.8 L1524.9,1278 L1525.8,1275.3 L1526.7,1272.5 L1527.6,1269.7 L1528.5,1266.9 L1529.4,1264.1 L1530.3,1261.3 L1531.2,1258.5 L1532.1,1255.8 L1533,1253.1 L1533.9,1250.3 L1534.8,1247.7 L1535.7,1245 L1536.7,1242.4 L1537.6,1239.8 L1538.6,1237.2 L1539.7,1234.4 L1540.8,1231.6 L1541.9,1228.9 L1543.1,1226.2 L1544.2,1223.5 L1545.4,1220.9 L1546.5,1218.2 L1547.7,1215.6 L1548.8,1213 L1550,1210.4 L1551.2,1207.8 L1552.3,1205.2 L1553.5,1202.6 L1554.6,1200 L1555.8,1197.3 L1556.9,1194.6 L1558,1191.9 L1559.1,1189.2 L1560.1,1186.5 L1561.2,1183.8 L1562.3,1181 L1563.4,1178.2 L1564.4,1175.4 L1565.5,1172.6 L1566.5,1169.8 L1567.6,1167.1 L1568.7,1164.3 L1569.7,1161.6 L1570.8,1159 L1571.9,1156.4 L1572.9,1153.9 L1574,1151.4 L1575.1,1149 L1576.5,1146.1 L1577.8,1143.2 L1579.1,1140.3 L1580.5,1137.5 L1581.8,1134.8 L1583.1,1132.2 L1584.5,1129.6 L1585.9,1127.1 L1587.3,1124.7 L1588.8,1122.3 L1590.3,1120.1 L1592.1,1117.7 L1594,1115.4 L1595.9,1113.3 L1597.9,1111.2 L1599.8,1109.3 L1601.8,1107.3 L1603.7,1105.4 L1605.5,1103.4 L1607.3,1101.3 L1609,1099.1 L1610.7,1097 L1612.4,1094.9 L1614.1,1092.9 L1615.8,1091.2 L1617.7,1089.7 L1620,1088.4 L1622.5,1087.5 L1625,1086.8 L1627.5,1086 L1629.8,1085.1 L1632.2,1083.5 L1634.4,1081.7 L1636.6,1080 L1639,1079.1 L1641.3,1079.2 L1643.7,1079.8 L1646.3,1080.8 L1648.7,1081.7 L1651.1,1082.1 L1653.4,1082.1 L1655.7,1081.8 L1657.9,1081.3 L1660.3,1080.6 L1662.6,1079.9 L1665,1078.9 L1667.5,1077.9 L1670.1,1076.7 L1672.8,1075.6 L1675.5,1074.5 L1677.9,1073.5 L1680.4,1072.6 L1682.9,1071.5 L1685.4,1070.5 L1688.1,1069.5 L1690.8,1068.6 L1693.7,1067.7 L1696.7,1066.9 L1699.2,1066.3 L1701.8,1065.8 L1704.5,1065.4 L1707.3,1064.9 L1710.1,1064.6 L1713,1064.2 L1716,1063.9 L1719,1063.6 L1722.1,1063.3 L1725.2,1063 L1728.4,1062.8 L1731.7,1062.5 L1735,1062.3 L1737.5,1062.1 L1740.1,1062 L1742.5,1061.8 L1745,1061.7 L1747.5,1061.6 L1750,1061.4 L1752.5,1061.3 L1755.1,1061.3 L1757.6,1061.2 L1760.3,1061.1 L1763,1061 L1765.8,1061 L1768.6,1060.9 L1771.6,1060.9 L1774.7,1060.8 L1777.9,1060.8 L1781.2,1060.8 L1784.6,1060.7 L1788.2,1060.7 L1792,1060.6 L1795.9,1060.6 L1800,1060.5 L1801.8,1060.5 L1803.5,1060.5 L1805.4,1060.4 L1807.2,1060.4 L1809.1,1060.4 L1811.1,1060.4 L1813,1060.3 L1815,1060.3 L1817.1,1060.3 L1819.2,1060.3 L1821.3,1060.3 L1823.4,1060.2 L1825.6,1060.2 L1827.8,1060.2 L1830.1,1060.2 L1832.3,1060.2 L1834.6,1060.2 L1837,1060.1 L1839.3,1060.1 L1841.7,1060.1 L1844.2,1060.1 L1846.6,1060.1 L1849.1,1060.1 L1851.6,1060.1 L1854.2,1060.1 L1856.7,1060 L1859.3,1060 L1862,1060 L1864.6,1060 L1867.3,1060 L1870,1060 L1872.7,1060 L1875.5,1060 L1878.2,1060 L1881,1060 L1883.9,1060 L1886.7,1060 L1889.6,1059.9 L1892.5,1059.9 L1895.4,1059.9 L1898.3,1059.9 L1901.2,1059.9 L1904.2,1059.9 L1907.2,1059.9 L1910.2,1059.9 L1913.2,1059.9 L1916.3,1059.9 L1919.3,1059.9 L1922.4,1059.9 L1925.5,1059.9 L1928.6,1059.9 L1931.8,1059.9 L1934.9,1059.9 L1938.1,1059.9 L1941.2,1059.9 L1944.4,1059.9 L1947.6,1059.9 L1950.9,1059.9 L1954.1,1059.9 L1957.3,1059.9 L1960.6,1059.9 L1963.8,1059.9 L1967.1,1059.9 L1970.4,1059.9 L1973.7,1059.9 L1977,1059.9 L1980.3,1059.9 L1983.7,1059.9 L1987,1059.9 L1990.3,1059.9 L1993.7,1059.9 L1997,1059.9 L2000.4,1059.9 L2003.8,1059.9 L2007.1,1059.9 L2010.5,1059.9 L2013.9,1059.9 L2017.3,1059.9 L2020.7,1059.9 L2024.1,1059.9 L2027.5,1059.9 L2030.9,1059.9 L2034.3,1059.9 L2037.7,1059.9 L2041.1,1060 L2044.6,1060 L2048,1060 L2051.4,1060 L2054.8,1060 L2058.2,1060 L2061.6,1060 L2065,1060 L2068.4,1060 L2071.8,1060 L2075.2,1060 L2078.6,1060 L2082,1060 L2085.4,1060 L2088.8,1060 L2092.2,1060 L2095.6,1060 L2098.9,1060 L2102.3,1060 L2105.6,1060 L2109,1060 L2112.3,1060 L2115.7,1060 L2119,1060 L2122.3,1060 L2125.6,1060 L2128.9,1060 L2132.2,1060 L2135.4,1060 L2138.7,1060 L2142,1060 L2145.2,1060 L2148.4,1060 L2151.6,1060 L2154.8,1060 L2158,1060 L2161.2,1060 L2164.3,1060 L2167.5,1060 L2170.6,1060 L2173.7,1060 L2176.8,1060 L2179.9,1060 L2182.9,1060 L2186,1060 L2189,1060 L2192,1060" fill="none" stroke="#00ff00" stroke-width="8.0" stroke-linejoin="round"/>
<path d="M1272.5,1490.5 L1275.3,1490.4 L1278,1490.3 L1280.8,1490.2 L1283.5,1490.2 L1286.3,1490.1 L1289.1,1490 L1291.8,1489.9 L1294.6,1489.8 L1297.3,1489.6 L1300,1489.5 L1302.9,1489.3 L1305.8,1489.2 L1308.6,1489.1 L1311.4,1488.9 L1314.3,1488.8 L1317.1,1488.5 L1320,1488.3 L1322.9,1487.9 L1325.8,1487.5 L1328.5,1487 L1331.3,1486.6 L1334.1,1486 L1336.9,1485.4 L1339.7,1484.8 L1342.6,1484.1 L1345.4,1483.4 L1348.2,1482.6 L1350.9,1481.8 L1353.6,1480.9 L1356.2,1480 L1358.8,1479 L1361.4,1477.9 L1364,1476.8 L1366.5,1475.7 L1368.9,1474.4 L1371.4,1473.2 L1373.7,1471.8 L1376,1470.5 L1378.3,1469 L1380.5,1467.5 L1382.8,1465.8 L1385,1464 L1387.1,1462.2 L1389.2,1460.3 L1391.2,1458.3 L1393.1,1456.3 L1395.1,1454.2 L1396.9,1452.1 L1398.8,1449.9 L1400.7,1447.6 L1402.5,1445.3 L1404.2,1443 L1405.9,1440.6 L1407.6,1438.1 L1409.2,1435.6 L1410.8,1433 L1412.4,1430.4 L1414,1427.7 L1415.3,1425.4 L1416.7,1423 L1418,1420.6 L1419.4,1418.1 L1420.7,1415.6 L1422,1413.1 L1423.2,1410.5 L1424.5,1407.9 L1425.7,1405.3 L1426.9,1402.7 L1428.1,1400 L1429.2,1397.3 L1430.3,1394.6 L1431.3,1392 L1432.3,1389.2 L1433.3,1386.5 L1434.2,1383.7 L1435.1,1380.9 L1436,1378.1 L1436.9,1375.3 L1437.8,1372.4 L1438.6,1369.5 L1439.5,1366.6 L1440.4,1363.7 L1441.3,1360.8 L1442.1,1358.1 L1443,1355.3 L1443.8,1352.6 L1444.6,1349.8 L1445.5,1347 L1446.3,1344.2 L1447.1,1341.3 L1447.9,1338.5 L1448.7,1335.6 L1449.5,1332.8 L1450.3,1329.9 L1451.1,1327 L1451.9,1324.1 L1452.7,1321.1 L1453.5,1318.2 L1454.2,1315.4 L1455,1312.6 L1455.7,1309.8 L1456.4,1307 L1457.1,1304.1 L1457.9,1301.2 L1458.6,1298.3 L1459.3,1295.5 L1460,1292.6 L1460.7,1289.7 L1461.4,1286.8 L1462.1,1283.9 L1462.8,1281 L1463.5,1278.1 L1464.3,1275.3 L1465,1272.4 L1465.7,1269.6 L1466.4,1266.7 L1467.2,1263.8 L1467.9,1260.9 L1468.7,1258.1 L1469.4,1255.2 L1470.2,1252.3 L1470.9,1249.5 L1471.7,1246.6 L1472.5,1243.8 L1473.2,1240.9 L1474,1238.1 L1474.7,1235.2 L1475.5,1232.4 L1476.3,1229.6 L1477,1226.8 L1477.8,1224 L1478.6,1221.1 L1479.4,1218.2 L1480.2,1215.4 L1481,1212.5 L1481.8,1209.6 L1482.6,1206.8 L1483.4,1203.9 L1484.3,1201.1 L1485.1,1198.2 L1485.9,1195.4 L1486.7,1192.6 L1487.5,1189.8 L1488.3,1187 L1489.2,1184.2 L1490,1181.4 L1490.9,1178.5 L1491.7,1175.6 L1492.6,1172.8 L1493.4,1169.9 L1494.3,1167 L1495.2,1164.2 L1496,1161.3 L1496.9,1158.5 L1497.8,1155.7 L1498.6,1152.9 L1499.5,1150.1 L1500.4,1147.3 L1501.3,1144.6 L1502.2,1141.9 L1503.2,1139 L1504.1,1136.1 L1505.1,1133.2 L1506,1130.3 L1506.9,1127.4 L1507.9,1124.5 L1508.9,1121.7 L1509.9,1119 L1510.9,1116.2 L1512,1113.6 L1513.1,1110.9 L1514.3,1108.4 L1515.6,1105.7 L1517,1103.1 L1518.4,1100.5 L1519.9,1098 L1521.4,1095.6 L1522.9,1093.2 L1524.5,1090.8 L1526.1,1088.5 L1527.8,1086.3 L1529.5,1084.1 L1531.4,1081.8 L1533.3,1079.6 L1535.2,1077.3 L1537.2,1075.2 L1539.3,1073.1 L1541.4,1071.1 L1543.5,1069.2 L1545.6,1067.4 L1547.8,1065.8 L1550.3,1064.1 L1552.8,1062.5 L1555.4,1061.1 L1558,1059.8 L1560.7,1058.7 L1563.3,1057.6 L1566,1056.7 L1568.6,1056 L1571.2,1055.5 L1573.9,1055.2 L1576.5,1054.9 L1579.1,1054.7 L1581.7,1054.3 L1584.2,1053.7 L1586.7,1052.8 L1589.1,1051.8 L1591.4,1050.6 L1593.7,1049.5 L1596.4,1048.5 L1599.4,1047.6 L1601.5,1047.2 L1603.8,1046.8 L1606.2,1046.5 L1608.7,1046.2 L1611.3,1046 L1614,1045.8 L1616.8,1045.6 L1619.7,1045.5 L1622.6,1045.3 L1625.7,1045.2 L1628.8,1045.1 L1631.9,1045.1 L1635.1,1045 L1638.4,1044.9 L1641.7,1044.7 L1645,1044.6 L1647.4,1044.5 L1649.9,1044.4 L1652.4,1044.3 L1654.9,1044.2 L1657.5,1044.1 L1660.1,1044 L1662.7,1043.9 L1665.4,1043.8 L1668.1,1043.8 L1670.8,1043.7 L1673.6,1043.6 L1676.4,1043.5 L1679.2,1043.5 L1682.1,1043.4 L1685,1043.3 L1687.9,1043.3 L1690.8,1043.2 L1693.8,1043.2 L1696.8,1043.1 L1699.8,1043 L1702.9,1043 L1706,1042.9 L1709.1,1042.9 L1712.2,1042.8 L1715.4,1042.8 L1718.6,1042.7 L1721.8,1042.7 L1725.1,1042.6 L1728.4,1042.6 L1731.7,1042.5 L1735,1042.5 L1737.5,1042.5 L1740,1042.4 L1742.6,1042.4 L1745.1,1042.4 L1747.7,1042.4 L1750.3,1042.3 L1752.9,1042.3 L1755.6,1042.3 L1758.2,1042.3 L1760.9,1042.2 L1763.5,1042.2 L1766.2,1042.2 L1768.9,1042.2 L1771.7,1042.2 L1774.4,1042.2 L1777.2,1042.1 L1779.9,1042.1 L1782.7,1042.1 L1785.5,1042.1 L1788.3,1042.1 L1791.2,1042.1 L1794,1042.1 L1796.9,1042.1 L1799.8,1042.1 L1802.7,1042.1 L1805.6,1042.1 L1808.5,1042.1 L1811.5,1042.1 L1814.4,1042.1 L1817.4,1042 L1820.4,1042 L1823.4,1042 L1826.4,1042 L1829.5,1042 L1832.5,1042 L1835.6,1042 L1838.7,1042 L1841.8,1042 L1844.9,1042 L1848,1042 L1851.1,1042 L1854.3,1042 L1857.5,1042 L1860.7,1042 L1863.9,1042 L1867.1,1042 L1870.3,1042 L1873.5,1042 L1876.8,1042 L1880.1,1042 L1883.4,1042 L1886.7,1042 L1890,1042 L1893.3,1042 L1896.6,1042 L1900,1042 L1902.6,1042 L1905.1,1042 L1907.7,1042 L1910.4,1042 L1913,1042 L1915.6,1042 L1918.3,1042 L1921,1042 L1923.7,1042 L1926.4,1042 L1929.1,1042 L1931.9,1042 L1934.6,1042 L1937.4,1042 L1940.1,1042 L1942.9,1042 L1945.7,1042 L1948.6,1042 L1951.4,1042 L1954.2,1042 L1957.1,1041.9 L1960,1041.9 L1962.8,1041.9 L1965.7,1041.9 L1968.6,1041.9 L1971.5,1041.9 L1974.5,1041.9 L1977.4,1041.9 L1980.3,1041.9 L1983.3,1041.9 L1986.2,1041.9 L1989.2,1041.9 L1992.2,1041.9 L1995.2,1041.9 L1998.2,1041.9 L2001.2,1041.9 L2004.2,1041.9 L2007.2,1041.9 L2010.2,1041.9 L2013.3,1041.9 L2016.3,1041.9 L2019.4,1041.9 L2022.4,1041.9 L2025.5,1041.9 L2028.5,1041.9 L2031.6,1041.9 L2034.7,1042 L2037.7,1042 L2040.8,1042 L2043.9,1042 L2047,1042 L2050.1,1042 L2053.2,1042 L2056.3,1042 L2059.4,1042 L2062.5,1042 L2065.6,1042 L2068.7,1042 L2071.8,1042 L2075,1042 L2078.1,1042 L2081.2,1042 L2084.3,1042 L2087.4,1042 L2090.6,1042 L2093.7,1042 L2096.8,1042 L2099.9,1042 L2103,1042 L2106.2,1042 L2109.3,1042 L2112.4,1042 L2115.5,1042 L2118.6,1042 L2121.7,1042 L2124.8,1042 L2127.9,1042 L2131,1042 L2134.1,1042 L2137.2,1042 L2140.3,1042 L2143.4,1042 L2146.5,1042 L2149.6,1042 L2152.6,1042 L2155.7,1042 L2158.8,1042 L2161.8,1042 L2164.9,1042 L2167.9,1042 L2170.9,1042 L2174,1042 L2177,1042 L2180,1042 L2183,1042 L2186,1042 L2189,1042 L2192,1042" fill="none" stroke="#0000ff" stroke-width="8.0" stroke-linejoin="round"/>
<rect x="1411" y="1039.5" width="781" height="4.5" fill="#0000ff"/>
<rect x="1411" y="1057.7" width="781" height="4.5" fill="#00ff00"/>
<rect x="1411" y="1063.8" width="781" height="4.5" fill="#ff0000"/>
</g>
<g fill="#000" shape-rendering="crispEdges"><rect x="151" y="54" width="8" height="634"/><rect x="1071" y="54" width="8" height="634"/><rect x="151" y="54" width="928" height="7"/><rect x="151" y="681" width="928" height="7"/><rect x="151" y="861" width="8" height="634"/><rect x="1071" y="861" width="8" height="634"/><rect x="151" y="861" width="928" height="8"/><rect x="151" y="1488" width="928" height="7"/><rect x="1269" y="54" width="7" height="634"/><rect x="2188" y="54" width="8" height="634"/><rect x="1269" y="54" width="927" height="7"/><rect x="1269" y="681" width="927" height="7"/><rect x="1269" y="861" width="7" height="634"/><rect x="2188" y="861" width="8" height="634"/><rect x="1269" y="861" width="927" height="8"/><rect x="1269" y="1488" width="927" height="7"/></g>
<g font-family="'Liberation Sans', Arial, Helvetica, sans-serif" fill="#000" style="font-kerning:none">
<text transform="translate(124.5,700.8) scale(1,1.04)" font-size="49" text-anchor="end">0</text>
<text transform="translate(124.5,617.2) scale(1,1.04)" font-size="49" text-anchor="end">2</text>
<text transform="translate(124.5,533.6) scale(1,1.04)" font-size="49" text-anchor="end">4</text>
<text transform="translate(124.5,450) scale(1,1.04)" font-size="49" text-anchor="end">6</text>
<text transform="translate(124.5,366.4) scale(1,1.04)" font-size="49" text-anchor="end">8</text>
<text transform="translate(124.5,282.8) scale(1,1.04)" font-size="49" text-anchor="end">10</text>
<text transform="translate(124.5,199.2) scale(1,1.04)" font-size="49" text-anchor="end">12</text>
<text transform="translate(124.5,115.6) scale(1,1.04)" font-size="49" text-anchor="end">14</text>
<text transform="translate(154.5,751.2) scale(1,1.04)" font-size="49" text-anchor="middle">0</text>
<text transform="translate(384.5,751.2) scale(1,1.04)" font-size="49" text-anchor="middle">50</text>
<text transform="translate(614.5,751.2) scale(1,1.04)" font-size="49" text-anchor="middle">100</text>
<text transform="translate(844.5,751.2) scale(1,1.04)" font-size="49" text-anchor="middle">150</text>
<text transform="translate(1074.5,751.2) scale(1,1.04)" font-size="49" text-anchor="middle">200</text>
<text transform="translate(63,371) rotate(-90) scale(1,1.12)" font-size="49" text-anchor="middle">S</text>
<text transform="translate(614,825.5) scale(0.96,1.04)" font-size="49" text-anchor="middle">t/<tspan font-family="'Liberation Serif', 'Times New Roman', Times, serif">&#916;</tspan>t</text>
<text transform="translate(784,99.8) scale(1,1.07)" font-size="38">A=1</text>
<rect x="920" y="83.2" width="103" height="7.5" fill="#ff0000"/>
<text transform="translate(784,138.3) scale(1,1.07)" font-size="38">A=3.5</text>
<rect x="920" y="121.8" width="103" height="7.5" fill="#00ff00"/>
<text transform="translate(784,176.3) scale(1,1.07)" font-size="38">A=10</text>
<rect x="920" y="159.8" width="103" height="7.5" fill="#0000ff"/>
<text transform="translate(202,132.5)" font-size="38.3">|<tspan font-family="'Liberation Serif', 'Times New Roman', Times, serif">&#936;</tspan>(0)&gt;=|0000100000111111&gt;</text>
<g font-family="'Liberation Serif', 'Times New Roman', Times, serif" font-weight="bold">
<text transform="translate(210,226) scale(1,1.07)" font-size="62">a</text>
<text transform="translate(240.5,222.5) scale(1,0.97)" font-size="62" font-weight="normal">)</text>
</g>
<text transform="translate(124.5,1507.8) scale(1,1.04)" font-size="49" text-anchor="end">0</text>
<text transform="translate(124.5,1424.3) scale(1,1.04)" font-size="49" text-anchor="end">2</text>
<text transform="translate(124.5,1340.7) scale(1,1.04)" font-size="49" text-anchor="end">4</text>
<text transform="translate(124.5,1257.2) scale(1,1.04)" font-size="49" text-anchor="end">6</text>
<text transform="translate(124.5,1173.7) scale(1,1.04)" font-size="49" text-anchor="end">8</text>
<text transform="translate(124.5,1090.1) scale(1,1.04)" font-size="49" text-anchor="end">10</text>
<text transform="translate(124.5,1006.6) scale(1,1.04)" font-size="49" text-anchor="end">12</text>
<text transform="translate(124.5,923.1) scale(1,1.04)" font-size="49" text-anchor="end">14</text>
<text transform="translate(287.4,1563.2) scale(1,1.04)" font-size="49" text-anchor="middle">10<tspan font-size="39" dy="-24.5">0</tspan></text>
<text transform="translate(550.3,1563.2) scale(1,1.04)" font-size="49" text-anchor="middle">10<tspan font-size="39" dy="-24.5">2</tspan></text>
<text transform="translate(813.1,1563.2) scale(1,1.04)" font-size="49" text-anchor="middle">10<tspan font-size="39" dy="-24.5">4</tspan></text>
<text transform="translate(1076,1563.2) scale(1,1.04)" font-size="49" text-anchor="middle">10<tspan font-size="39" dy="-24.5">6</tspan></text>
<text transform="translate(63,1178.5) rotate(-90) scale(1,1.12)" font-size="49" text-anchor="middle">S</text>
<text transform="translate(614,1633) scale(0.96,1.04)" font-size="49" text-anchor="middle">t/<tspan font-family="'Liberation Serif', 'Times New Roman', Times, serif">&#916;</tspan>t</text>
<text transform="translate(784,907.3) scale(1,1.07)" font-size="38">A=1</text>
<rect x="920" y="890.8" width="103" height="7.5" fill="#ff0000"/>
<text transform="translate(784,945.8) scale(1,1.07)" font-size="38">A=3.5</text>
<rect x="920" y="929.2" width="103" height="7.5" fill="#00ff00"/>
<text transform="translate(784,983.8) scale(1,1.07)" font-size="38">A=10</text>
<rect x="920" y="967.2" width="103" height="7.5" fill="#0000ff"/>
<text transform="translate(202,940)" font-size="38.3">|<tspan font-family="'Liberation Serif', 'Times New Roman', Times, serif">&#936;</tspan>(0)&gt;=|0000100000111111&gt;</text>
<g font-family="'Liberation Serif', 'Times New Roman', Times, serif" font-weight="bold">
<text transform="translate(210,1033.5) scale(1,1.07)" font-size="62">c</text>
<text transform="translate(237,1030) scale(1,0.97)" font-size="62" font-weight="normal">)</text>
</g>
<text transform="translate(1242,700.8) scale(1,1.04)" font-size="49" text-anchor="end">0</text>
<text transform="translate(1242,617.2) scale(1,1.04)" font-size="49" text-anchor="end">2</text>
<text transform="translate(1242,533.6) scale(1,1.04)" font-size="49" text-anchor="end">4</text>
<text transform="translate(1242,450) scale(1,1.04)" font-size="49" text-anchor="end">6</text>
<text transform="translate(1242,366.4) scale(1,1.04)" font-size="49" text-anchor="end">8</text>
<text transform="translate(1242,282.8) scale(1,1.04)" font-size="49" text-anchor="end">10</text>
<text transform="translate(1242,199.2) scale(1,1.04)" font-size="49" text-anchor="end">12</text>
<text transform="translate(1242,115.6) scale(1,1.04)" font-size="49" text-anchor="end">14</text>
<text transform="translate(1272,751.2) scale(1,1.04)" font-size="49" text-anchor="middle">0</text>
<text transform="translate(1501.9,751.2) scale(1,1.04)" font-size="49" text-anchor="middle">50</text>
<text transform="translate(1731.8,751.2) scale(1,1.04)" font-size="49" text-anchor="middle">100</text>
<text transform="translate(1961.6,751.2) scale(1,1.04)" font-size="49" text-anchor="middle">150</text>
<text transform="translate(2191.5,751.2) scale(1,1.04)" font-size="49" text-anchor="middle">200</text>
<text transform="translate(1180.5,371) rotate(-90) scale(1,1.12)" font-size="49" text-anchor="middle">S</text>
<text transform="translate(1731.5,825.5) scale(0.96,1.04)" font-size="49" text-anchor="middle">t/<tspan font-family="'Liberation Serif', 'Times New Roman', Times, serif">&#916;</tspan>t</text>
<text transform="translate(1901.5,99.8) scale(1,1.07)" font-size="38">A=1</text>
<rect x="2037.5" y="83.2" width="103" height="7.5" fill="#ff0000"/>
<text transform="translate(1901.5,138.3) scale(1,1.07)" font-size="38">A=3.5</text>
<rect x="2037.5" y="121.8" width="103" height="7.5" fill="#00ff00"/>
<text transform="translate(1901.5,176.3) scale(1,1.07)" font-size="38">A=10</text>
<rect x="2037.5" y="159.8" width="103" height="7.5" fill="#0000ff"/>
<text transform="translate(1319.5,132.5)" font-size="38.3">|<tspan font-family="'Liberation Serif', 'Times New Roman', Times, serif">&#936;</tspan>(0)&gt;=|1000100011001011&gt;</text>
<g font-family="'Liberation Serif', 'Times New Roman', Times, serif" font-weight="bold">
<text transform="translate(1327.5,226) scale(1,1.07)" font-size="62">b</text>
<text transform="translate(1361.5,222.5) scale(1,0.97)" font-size="62" font-weight="normal">)</text>
</g>
<text transform="translate(1242,1507.8) scale(1,1.04)" font-size="49" text-anchor="end">0</text>
<text transform="translate(1242,1424.3) scale(1,1.04)" font-size="49" text-anchor="end">2</text>
<text transform="translate(1242,1340.7) scale(1,1.04)" font-size="49" text-anchor="end">4</text>
<text transform="translate(1242,1257.2) scale(1,1.04)" font-size="49" text-anchor="end">6</text>
<text transform="translate(1242,1173.7) scale(1,1.04)" font-size="49" text-anchor="end">8</text>
<text transform="translate(1242,1090.1) scale(1,1.04)" font-size="49" text-anchor="end">10</text>
<text transform="translate(1242,1006.6) scale(1,1.04)" font-size="49" text-anchor="end">12</text>
<text transform="translate(1242,923.1) scale(1,1.04)" font-size="49" text-anchor="end">14</text>
<text transform="translate(1404.9,1563.2) scale(1,1.04)" font-size="49" text-anchor="middle">10<tspan font-size="39" dy="-24.5">0</tspan></text>
<text transform="translate(1667.6,1563.2) scale(1,1.04)" font-size="49" text-anchor="middle">10<tspan font-size="39" dy="-24.5">2</tspan></text>
<text transform="translate(1930.3,1563.2) scale(1,1.04)" font-size="49" text-anchor="middle">10<tspan font-size="39" dy="-24.5">4</tspan></text>
<text transform="translate(2193,1563.2) scale(1,1.04)" font-size="49" text-anchor="middle">10<tspan font-size="39" dy="-24.5">6</tspan></text>
<text transform="translate(1180.5,1178.5) rotate(-90) scale(1,1.12)" font-size="49" text-anchor="middle">S</text>
<text transform="translate(1731.5,1633) scale(0.96,1.04)" font-size="49" text-anchor="middle">t/<tspan font-family="'Liberation Serif', 'Times New Roman', Times, serif">&#916;</tspan>t</text>
<text transform="translate(1901.5,907.3) scale(1,1.07)" font-size="38">A=1</text>
<rect x="2037.5" y="890.8" width="103" height="7.5" fill="#ff0000"/>
<text transform="translate(1901.5,945.8) scale(1,1.07)" font-size="38">A=3.5</text>
<rect x="2037.5" y="929.2" width="103" height="7.5" fill="#00ff00"/>
<text transform="translate(1901.5,983.8) scale(1,1.07)" font-size="38">A=10</text>
<rect x="2037.5" y="967.2" width="103" height="7.5" fill="#0000ff"/>
<text transform="translate(1319.5,940)" font-size="38.3">|<tspan font-family="'Liberation Serif', 'Times New Roman', Times, serif">&#936;</tspan>(0)&gt;=|1000100011001011&gt;</text>
<g font-family="'Liberation Serif', 'Times New Roman', Times, serif" font-weight="bold">
<text transform="translate(1327.5,1033.5) scale(1,1.07)" font-size="62">d</text>
<text transform="translate(1361.5,1030) scale(1,0.97)" font-size="62" font-weight="normal">)</text>
</g>
</g>
</svg>
</body></html>
